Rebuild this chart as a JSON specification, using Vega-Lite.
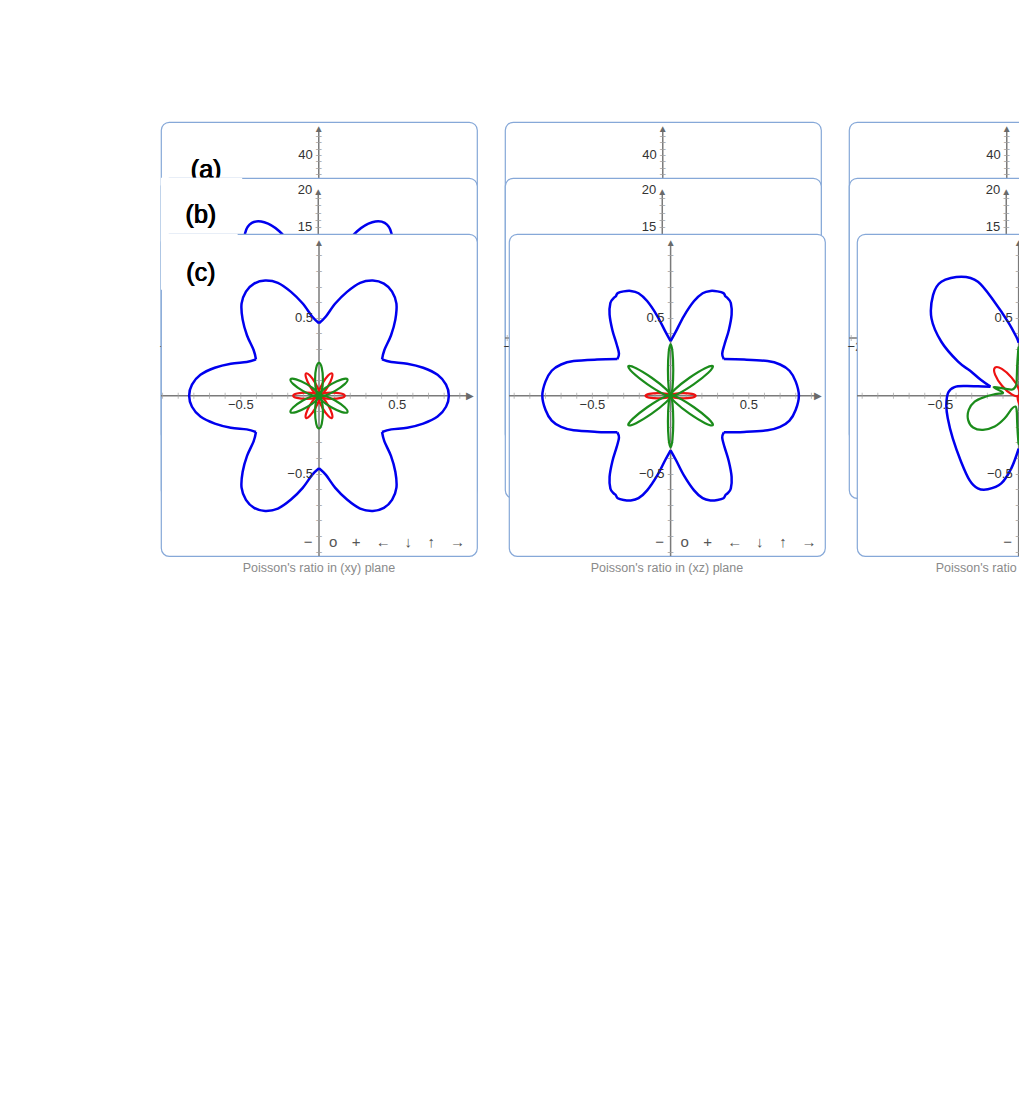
{
"$schema": "https://vega.github.io/schema/vega-lite/v6.json",
"padding": {"left": 12, "top": 10, "right": 0, "bottom": 0},
"background": "white",
"bounds": "flush",
"spacing": 56,
"config": {
 "view": {"stroke": "#86a8d8", "strokeWidth": 1.2, "cornerRadius": 8, "fill": "white"},
 "axis": {"grid": true, "gridColor": "#dedede", "gridWidth": 1, "labels": false, "ticks": false, "domain": false},
 "title": {"orient": "bottom", "fontSize": 12.5, "fontWeight": "normal", "color": "#8a8a8a", "font": "Liberation Sans", "offset": 3},
 "text": {"font": "Liberation Sans", "fontSize": 13, "color": "#333"}
},
"datasets": {
 "hx_a1": [{"x":-49.3,"y":0},{"x":46.9,"y":0}],
 "hx_a2": [{"x":-49.3,"y":0},{"x":46.9,"y":0}],
 "hx_a3": [{"x":-49.3,"y":0},{"x":46.9,"y":0}],
 "vy_a1": [{"x":0,"y":-49.7},{"x":0,"y":48.1}],
 "vy_a2": [{"x":0,"y":-49.7},{"x":0,"y":48.1}],
 "vy_a3": [{"x":0,"y":-49.7},{"x":0,"y":48.1}],
 "hx_b1": [{"x":-21.3,"y":0},{"x":20.3,"y":0}],
 "hx_b2": [{"x":-21.3,"y":0},{"x":20.3,"y":0}],
 "hx_b3": [{"x":-21.3,"y":0},{"x":20.3,"y":0}],
 "vy_b1": [{"x":0,"y":-21.68},{"x":0,"y":19.8}],
 "vy_b2": [{"x":0,"y":-21.68},{"x":0,"y":19.8}],
 "vy_b3": [{"x":0,"y":-21.68},{"x":0,"y":19.8}],
 "hx_c1": [{"x":-1.01,"y":0},{"x":0.965,"y":0}],
 "hx_c2": [{"x":-1.033,"y":0},{"x":0.94,"y":0}],
 "hx_c3": [{"x":-1.033,"y":0},{"x":0.925,"y":0}],
 "vy_c1": [{"x":0,"y":-1.028},{"x":0,"y":0.98}],
 "vy_c2": [{"x":0,"y":-1.028},{"x":0,"y":0.98}],
 "vy_c3": [{"x":0,"y":-1.028},{"x":0,"y":0.98}],
 "ar_a1": [{"x":46.9,"y":0,"s":"▶"},{"x":0,"y":48.1,"s":"▲"}],
 "ar_a2": [{"x":46.9,"y":0,"s":"▶"},{"x":0,"y":48.1,"s":"▲"}],
 "ar_a3": [{"x":46.9,"y":0,"s":"▶"},{"x":0,"y":48.1,"s":"▲"}],
 "ar_b1": [{"x":20.3,"y":0,"s":"▶"},{"x":0,"y":19.8,"s":"▲"}],
 "ar_b2": [{"x":20.3,"y":0,"s":"▶"},{"x":0,"y":19.8,"s":"▲"}],
 "ar_b3": [{"x":20.3,"y":0,"s":"▶"},{"x":0,"y":19.8,"s":"▲"}],
 "ar_c1": [{"x":0.965,"y":0,"s":"▶"},{"x":0,"y":0.98,"s":"▲"}],
 "ar_c2": [{"x":0.94,"y":0,"s":"▶"},{"x":0,"y":0.98,"s":"▲"}],
 "ar_c3": [{"x":0.925,"y":0,"s":"▶"},{"x":0,"y":0.98,"s":"▲"}],
 "wb_a1": [{"x":-46.1,"y":36.7},{"x":-21.9,"y":36.7}],
 "wb_b1": [{"x":-21.3,"y":16.69},{"x":-10.3,"y":16.69}],
 "wb_c1": [{"x":-1.01,"y":0.8585},{"x":-0.52,"y":0.8585}],
 "la_a1": [{"x":-35.35,"y":35.4,"s":"(a)"},{"x":-35.2,"y":35.4,"s":"(a)"},{"x":-35.05,"y":35.4,"s":"(a)"}],
 "la_b1": [{"x":-15.97,"y":16.7,"s":"(b)"},{"x":-15.9,"y":16.7,"s":"(b)"},{"x":-15.83,"y":16.7,"s":"(b)"}],
 "la_c1": [{"x":-0.758,"y":0.786,"s":"(c)"},{"x":-0.755,"y":0.786,"s":"(c)"},{"x":-0.752,"y":0.786,"s":"(c)"}],
 "mx_a1": [{"v":-48},{"v":-46},{"v":-44},{"v":-42},{"v":-40},{"v":-38},{"v":-36},{"v":-34},{"v":-32},{"v":-30},{"v":-28},{"v":-26},{"v":-24},{"v":-22},{"v":-20},{"v":-18},{"v":-16},{"v":-14},{"v":-12},{"v":-10},{"v":-8},{"v":-6},{"v":-4},{"v":-2},{"v":2},{"v":4},{"v":6},{"v":8},{"v":10},{"v":12},{"v":14},{"v":16},{"v":18},{"v":20},{"v":22},{"v":24},{"v":26},{"v":28},{"v":30},{"v":32},{"v":34},{"v":36},{"v":38},{"v":40},{"v":42},{"v":44},{"v":46}],
 "mx_a2": [{"v":-48},{"v":-46},{"v":-44},{"v":-42},{"v":-40},{"v":-38},{"v":-36},{"v":-34},{"v":-32},{"v":-30},{"v":-28},{"v":-26},{"v":-24},{"v":-22},{"v":-20},{"v":-18},{"v":-16},{"v":-14},{"v":-12},{"v":-10},{"v":-8},{"v":-6},{"v":-4},{"v":-2},{"v":2},{"v":4},{"v":6},{"v":8},{"v":10},{"v":12},{"v":14},{"v":16},{"v":18},{"v":20},{"v":22},{"v":24},{"v":26},{"v":28},{"v":30},{"v":32},{"v":34},{"v":36},{"v":38},{"v":40},{"v":42},{"v":44},{"v":46}],
 "mx_a3": [{"v":-48},{"v":-46},{"v":-44},{"v":-42},{"v":-40},{"v":-38},{"v":-36},{"v":-34},{"v":-32},{"v":-30},{"v":-28},{"v":-26},{"v":-24},{"v":-22},{"v":-20},{"v":-18},{"v":-16},{"v":-14},{"v":-12},{"v":-10},{"v":-8},{"v":-6},{"v":-4},{"v":-2},{"v":2},{"v":4},{"v":6},{"v":8},{"v":10},{"v":12},{"v":14},{"v":16},{"v":18},{"v":20},{"v":22},{"v":24},{"v":26},{"v":28},{"v":30},{"v":32},{"v":34},{"v":36},{"v":38},{"v":40},{"v":42},{"v":44},{"v":46}],
 "mx_b1": [{"v":-21},{"v":-20},{"v":-19},{"v":-18},{"v":-17},{"v":-16},{"v":-15},{"v":-14},{"v":-13},{"v":-12},{"v":-11},{"v":-10},{"v":-9},{"v":-8},{"v":-7},{"v":-6},{"v":-5},{"v":-4},{"v":-3},{"v":-2},{"v":-1},{"v":1},{"v":2},{"v":3},{"v":4},{"v":5},{"v":6},{"v":7},{"v":8},{"v":9},{"v":10},{"v":11},{"v":12},{"v":13},{"v":14},{"v":15},{"v":16},{"v":17},{"v":18},{"v":19}],
 "mx_b2": [{"v":-21},{"v":-20},{"v":-19},{"v":-18},{"v":-17},{"v":-16},{"v":-15},{"v":-14},{"v":-13},{"v":-12},{"v":-11},{"v":-10},{"v":-9},{"v":-8},{"v":-7},{"v":-6},{"v":-5},{"v":-4},{"v":-3},{"v":-2},{"v":-1},{"v":1},{"v":2},{"v":3},{"v":4},{"v":5},{"v":6},{"v":7},{"v":8},{"v":9},{"v":10},{"v":11},{"v":12},{"v":13},{"v":14},{"v":15},{"v":16},{"v":17},{"v":18},{"v":19}],
 "mx_b3": [{"v":-21},{"v":-20},{"v":-19},{"v":-18},{"v":-17},{"v":-16},{"v":-15},{"v":-14},{"v":-13},{"v":-12},{"v":-11},{"v":-10},{"v":-9},{"v":-8},{"v":-7},{"v":-6},{"v":-5},{"v":-4},{"v":-3},{"v":-2},{"v":-1},{"v":1},{"v":2},{"v":3},{"v":4},{"v":5},{"v":6},{"v":7},{"v":8},{"v":9},{"v":10},{"v":11},{"v":12},{"v":13},{"v":14},{"v":15},{"v":16},{"v":17},{"v":18},{"v":19}],
 "mx_c1": [{"v":-1},{"v":-0.9},{"v":-0.8},{"v":-0.7},{"v":-0.6},{"v":-0.5},{"v":-0.4},{"v":-0.3},{"v":-0.2},{"v":-0.1},{"v":0.1},{"v":0.2},{"v":0.3},{"v":0.4},{"v":0.5},{"v":0.6},{"v":0.7},{"v":0.8},{"v":0.9}],
 "mx_c2": [{"v":-1},{"v":-0.9},{"v":-0.8},{"v":-0.7},{"v":-0.6},{"v":-0.5},{"v":-0.4},{"v":-0.3},{"v":-0.2},{"v":-0.1},{"v":0.1},{"v":0.2},{"v":0.3},{"v":0.4},{"v":0.5},{"v":0.6},{"v":0.7},{"v":0.8},{"v":0.9}],
 "mx_c3": [{"v":-1},{"v":-0.9},{"v":-0.8},{"v":-0.7},{"v":-0.6},{"v":-0.5},{"v":-0.4},{"v":-0.3},{"v":-0.2},{"v":-0.1},{"v":0.1},{"v":0.2},{"v":0.3},{"v":0.4},{"v":0.5},{"v":0.6},{"v":0.7},{"v":0.8},{"v":0.9}],
 "my_a1": [{"x":0,"y":-48,"s":"–"},{"x":0,"y":-46,"s":"–"},{"x":0,"y":-44,"s":"–"},{"x":0,"y":-42,"s":"–"},{"x":0,"y":-40,"s":"–"},{"x":0,"y":-38,"s":"–"},{"x":0,"y":-36,"s":"–"},{"x":0,"y":-34,"s":"–"},{"x":0,"y":-32,"s":"–"},{"x":0,"y":-30,"s":"–"},{"x":0,"y":-28,"s":"–"},{"x":0,"y":-26,"s":"–"},{"x":0,"y":-24,"s":"–"},{"x":0,"y":-22,"s":"–"},{"x":0,"y":-20,"s":"–"},{"x":0,"y":-18,"s":"–"},{"x":0,"y":-16,"s":"–"},{"x":0,"y":-14,"s":"–"},{"x":0,"y":-12,"s":"–"},{"x":0,"y":-10,"s":"–"},{"x":0,"y":-8,"s":"–"},{"x":0,"y":-6,"s":"–"},{"x":0,"y":-4,"s":"–"},{"x":0,"y":-2,"s":"–"},{"x":0,"y":2,"s":"–"},{"x":0,"y":4,"s":"–"},{"x":0,"y":6,"s":"–"},{"x":0,"y":8,"s":"–"},{"x":0,"y":10,"s":"–"},{"x":0,"y":12,"s":"–"},{"x":0,"y":14,"s":"–"},{"x":0,"y":16,"s":"–"},{"x":0,"y":18,"s":"–"},{"x":0,"y":20,"s":"–"},{"x":0,"y":22,"s":"–"},{"x":0,"y":24,"s":"–"},{"x":0,"y":26,"s":"–"},{"x":0,"y":28,"s":"–"},{"x":0,"y":30,"s":"–"},{"x":0,"y":32,"s":"–"},{"x":0,"y":34,"s":"–"},{"x":0,"y":36,"s":"–"},{"x":0,"y":38,"s":"–"},{"x":0,"y":40,"s":"–"},{"x":0,"y":42,"s":"–"},{"x":0,"y":44,"s":"–"},{"x":0,"y":46,"s":"–"}],
 "my_a2": [{"x":0,"y":-48,"s":"–"},{"x":0,"y":-46,"s":"–"},{"x":0,"y":-44,"s":"–"},{"x":0,"y":-42,"s":"–"},{"x":0,"y":-40,"s":"–"},{"x":0,"y":-38,"s":"–"},{"x":0,"y":-36,"s":"–"},{"x":0,"y":-34,"s":"–"},{"x":0,"y":-32,"s":"–"},{"x":0,"y":-30,"s":"–"},{"x":0,"y":-28,"s":"–"},{"x":0,"y":-26,"s":"–"},{"x":0,"y":-24,"s":"–"},{"x":0,"y":-22,"s":"–"},{"x":0,"y":-20,"s":"–"},{"x":0,"y":-18,"s":"–"},{"x":0,"y":-16,"s":"–"},{"x":0,"y":-14,"s":"–"},{"x":0,"y":-12,"s":"–"},{"x":0,"y":-10,"s":"–"},{"x":0,"y":-8,"s":"–"},{"x":0,"y":-6,"s":"–"},{"x":0,"y":-4,"s":"–"},{"x":0,"y":-2,"s":"–"},{"x":0,"y":2,"s":"–"},{"x":0,"y":4,"s":"–"},{"x":0,"y":6,"s":"–"},{"x":0,"y":8,"s":"–"},{"x":0,"y":10,"s":"–"},{"x":0,"y":12,"s":"–"},{"x":0,"y":14,"s":"–"},{"x":0,"y":16,"s":"–"},{"x":0,"y":18,"s":"–"},{"x":0,"y":20,"s":"–"},{"x":0,"y":22,"s":"–"},{"x":0,"y":24,"s":"–"},{"x":0,"y":26,"s":"–"},{"x":0,"y":28,"s":"–"},{"x":0,"y":30,"s":"–"},{"x":0,"y":32,"s":"–"},{"x":0,"y":34,"s":"–"},{"x":0,"y":36,"s":"–"},{"x":0,"y":38,"s":"–"},{"x":0,"y":40,"s":"–"},{"x":0,"y":42,"s":"–"},{"x":0,"y":44,"s":"–"},{"x":0,"y":46,"s":"–"}],
 "my_a3": [{"x":0,"y":-48,"s":"–"},{"x":0,"y":-46,"s":"–"},{"x":0,"y":-44,"s":"–"},{"x":0,"y":-42,"s":"–"},{"x":0,"y":-40,"s":"–"},{"x":0,"y":-38,"s":"–"},{"x":0,"y":-36,"s":"–"},{"x":0,"y":-34,"s":"–"},{"x":0,"y":-32,"s":"–"},{"x":0,"y":-30,"s":"–"},{"x":0,"y":-28,"s":"–"},{"x":0,"y":-26,"s":"–"},{"x":0,"y":-24,"s":"–"},{"x":0,"y":-22,"s":"–"},{"x":0,"y":-20,"s":"–"},{"x":0,"y":-18,"s":"–"},{"x":0,"y":-16,"s":"–"},{"x":0,"y":-14,"s":"–"},{"x":0,"y":-12,"s":"–"},{"x":0,"y":-10,"s":"–"},{"x":0,"y":-8,"s":"–"},{"x":0,"y":-6,"s":"–"},{"x":0,"y":-4,"s":"–"},{"x":0,"y":-2,"s":"–"},{"x":0,"y":2,"s":"–"},{"x":0,"y":4,"s":"–"},{"x":0,"y":6,"s":"–"},{"x":0,"y":8,"s":"–"},{"x":0,"y":10,"s":"–"},{"x":0,"y":12,"s":"–"},{"x":0,"y":14,"s":"–"},{"x":0,"y":16,"s":"–"},{"x":0,"y":18,"s":"–"},{"x":0,"y":20,"s":"–"},{"x":0,"y":22,"s":"–"},{"x":0,"y":24,"s":"–"},{"x":0,"y":26,"s":"–"},{"x":0,"y":28,"s":"–"},{"x":0,"y":30,"s":"–"},{"x":0,"y":32,"s":"–"},{"x":0,"y":34,"s":"–"},{"x":0,"y":36,"s":"–"},{"x":0,"y":38,"s":"–"},{"x":0,"y":40,"s":"–"},{"x":0,"y":42,"s":"–"},{"x":0,"y":44,"s":"–"},{"x":0,"y":46,"s":"–"}],
 "my_b1": [{"x":0,"y":-21,"s":"–"},{"x":0,"y":-20,"s":"–"},{"x":0,"y":-19,"s":"–"},{"x":0,"y":-18,"s":"–"},{"x":0,"y":-17,"s":"–"},{"x":0,"y":-16,"s":"–"},{"x":0,"y":-15,"s":"–"},{"x":0,"y":-14,"s":"–"},{"x":0,"y":-13,"s":"–"},{"x":0,"y":-12,"s":"–"},{"x":0,"y":-11,"s":"–"},{"x":0,"y":-10,"s":"–"},{"x":0,"y":-9,"s":"–"},{"x":0,"y":-8,"s":"–"},{"x":0,"y":-7,"s":"–"},{"x":0,"y":-6,"s":"–"},{"x":0,"y":-5,"s":"–"},{"x":0,"y":-4,"s":"–"},{"x":0,"y":-3,"s":"–"},{"x":0,"y":-2,"s":"–"},{"x":0,"y":-1,"s":"–"},{"x":0,"y":1,"s":"–"},{"x":0,"y":2,"s":"–"},{"x":0,"y":3,"s":"–"},{"x":0,"y":4,"s":"–"},{"x":0,"y":5,"s":"–"},{"x":0,"y":6,"s":"–"},{"x":0,"y":7,"s":"–"},{"x":0,"y":8,"s":"–"},{"x":0,"y":9,"s":"–"},{"x":0,"y":10,"s":"–"},{"x":0,"y":11,"s":"–"},{"x":0,"y":12,"s":"–"},{"x":0,"y":13,"s":"–"},{"x":0,"y":14,"s":"–"},{"x":0,"y":15,"s":"–"},{"x":0,"y":16,"s":"–"},{"x":0,"y":17,"s":"–"},{"x":0,"y":18,"s":"–"},{"x":0,"y":19,"s":"–"}],
 "my_b2": [{"x":0,"y":-21,"s":"–"},{"x":0,"y":-20,"s":"–"},{"x":0,"y":-19,"s":"–"},{"x":0,"y":-18,"s":"–"},{"x":0,"y":-17,"s":"–"},{"x":0,"y":-16,"s":"–"},{"x":0,"y":-15,"s":"–"},{"x":0,"y":-14,"s":"–"},{"x":0,"y":-13,"s":"–"},{"x":0,"y":-12,"s":"–"},{"x":0,"y":-11,"s":"–"},{"x":0,"y":-10,"s":"–"},{"x":0,"y":-9,"s":"–"},{"x":0,"y":-8,"s":"–"},{"x":0,"y":-7,"s":"–"},{"x":0,"y":-6,"s":"–"},{"x":0,"y":-5,"s":"–"},{"x":0,"y":-4,"s":"–"},{"x":0,"y":-3,"s":"–"},{"x":0,"y":-2,"s":"–"},{"x":0,"y":-1,"s":"–"},{"x":0,"y":1,"s":"–"},{"x":0,"y":2,"s":"–"},{"x":0,"y":3,"s":"–"},{"x":0,"y":4,"s":"–"},{"x":0,"y":5,"s":"–"},{"x":0,"y":6,"s":"–"},{"x":0,"y":7,"s":"–"},{"x":0,"y":8,"s":"–"},{"x":0,"y":9,"s":"–"},{"x":0,"y":10,"s":"–"},{"x":0,"y":11,"s":"–"},{"x":0,"y":12,"s":"–"},{"x":0,"y":13,"s":"–"},{"x":0,"y":14,"s":"–"},{"x":0,"y":15,"s":"–"},{"x":0,"y":16,"s":"–"},{"x":0,"y":17,"s":"–"},{"x":0,"y":18,"s":"–"},{"x":0,"y":19,"s":"–"}],
 "my_b3": [{"x":0,"y":-21,"s":"–"},{"x":0,"y":-20,"s":"–"},{"x":0,"y":-19,"s":"–"},{"x":0,"y":-18,"s":"–"},{"x":0,"y":-17,"s":"–"},{"x":0,"y":-16,"s":"–"},{"x":0,"y":-15,"s":"–"},{"x":0,"y":-14,"s":"–"},{"x":0,"y":-13,"s":"–"},{"x":0,"y":-12,"s":"–"},{"x":0,"y":-11,"s":"–"},{"x":0,"y":-10,"s":"–"},{"x":0,"y":-9,"s":"–"},{"x":0,"y":-8,"s":"–"},{"x":0,"y":-7,"s":"–"},{"x":0,"y":-6,"s":"–"},{"x":0,"y":-5,"s":"–"},{"x":0,"y":-4,"s":"–"},{"x":0,"y":-3,"s":"–"},{"x":0,"y":-2,"s":"–"},{"x":0,"y":-1,"s":"–"},{"x":0,"y":1,"s":"–"},{"x":0,"y":2,"s":"–"},{"x":0,"y":3,"s":"–"},{"x":0,"y":4,"s":"–"},{"x":0,"y":5,"s":"–"},{"x":0,"y":6,"s":"–"},{"x":0,"y":7,"s":"–"},{"x":0,"y":8,"s":"–"},{"x":0,"y":9,"s":"–"},{"x":0,"y":10,"s":"–"},{"x":0,"y":11,"s":"–"},{"x":0,"y":12,"s":"–"},{"x":0,"y":13,"s":"–"},{"x":0,"y":14,"s":"–"},{"x":0,"y":15,"s":"–"},{"x":0,"y":16,"s":"–"},{"x":0,"y":17,"s":"–"},{"x":0,"y":18,"s":"–"},{"x":0,"y":19,"s":"–"}],
 "my_c1": [{"x":0,"y":-1,"s":"–"},{"x":0,"y":-0.9,"s":"–"},{"x":0,"y":-0.8,"s":"–"},{"x":0,"y":-0.7,"s":"–"},{"x":0,"y":-0.6,"s":"–"},{"x":0,"y":-0.5,"s":"–"},{"x":0,"y":-0.4,"s":"–"},{"x":0,"y":-0.3,"s":"–"},{"x":0,"y":-0.2,"s":"–"},{"x":0,"y":-0.1,"s":"–"},{"x":0,"y":0.1,"s":"–"},{"x":0,"y":0.2,"s":"–"},{"x":0,"y":0.3,"s":"–"},{"x":0,"y":0.4,"s":"–"},{"x":0,"y":0.5,"s":"–"},{"x":0,"y":0.6,"s":"–"},{"x":0,"y":0.7,"s":"–"},{"x":0,"y":0.8,"s":"–"},{"x":0,"y":0.9,"s":"–"}],
 "my_c2": [{"x":0,"y":-1,"s":"–"},{"x":0,"y":-0.9,"s":"–"},{"x":0,"y":-0.8,"s":"–"},{"x":0,"y":-0.7,"s":"–"},{"x":0,"y":-0.6,"s":"–"},{"x":0,"y":-0.5,"s":"–"},{"x":0,"y":-0.4,"s":"–"},{"x":0,"y":-0.3,"s":"–"},{"x":0,"y":-0.2,"s":"–"},{"x":0,"y":-0.1,"s":"–"},{"x":0,"y":0.1,"s":"–"},{"x":0,"y":0.2,"s":"–"},{"x":0,"y":0.3,"s":"–"},{"x":0,"y":0.4,"s":"–"},{"x":0,"y":0.5,"s":"–"},{"x":0,"y":0.6,"s":"–"},{"x":0,"y":0.7,"s":"–"},{"x":0,"y":0.8,"s":"–"},{"x":0,"y":0.9,"s":"–"}],
 "my_c3": [{"x":0,"y":-1,"s":"–"},{"x":0,"y":-0.9,"s":"–"},{"x":0,"y":-0.8,"s":"–"},{"x":0,"y":-0.7,"s":"–"},{"x":0,"y":-0.6,"s":"–"},{"x":0,"y":-0.5,"s":"–"},{"x":0,"y":-0.4,"s":"–"},{"x":0,"y":-0.3,"s":"–"},{"x":0,"y":-0.2,"s":"–"},{"x":0,"y":-0.1,"s":"–"},{"x":0,"y":0.1,"s":"–"},{"x":0,"y":0.2,"s":"–"},{"x":0,"y":0.3,"s":"–"},{"x":0,"y":0.4,"s":"–"},{"x":0,"y":0.5,"s":"–"},{"x":0,"y":0.6,"s":"–"},{"x":0,"y":0.7,"s":"–"},{"x":0,"y":0.8,"s":"–"},{"x":0,"y":0.9,"s":"–"}],
 "lx_a1": [{"v":-40,"s":"−40"},{"v":-30,"s":"−30"},{"v":-20,"s":"−20"},{"v":-10,"s":"−10"},{"v":10,"s":"10"},{"v":20,"s":"20"},{"v":30,"s":"30"},{"v":40,"s":"40"}],
 "lx_a2": [{"v":-40,"s":"−40"},{"v":-30,"s":"−30"},{"v":-20,"s":"−20"},{"v":-10,"s":"−10"},{"v":10,"s":"10"},{"v":20,"s":"20"},{"v":30,"s":"30"},{"v":40,"s":"40"}],
 "lx_a3": [{"v":-40,"s":"−40"},{"v":-30,"s":"−30"},{"v":-20,"s":"−20"},{"v":-10,"s":"−10"},{"v":10,"s":"10"},{"v":20,"s":"20"},{"v":30,"s":"30"},{"v":40,"s":"40"}],
 "lx_b1": [{"v":-20,"s":"−20"},{"v":-15,"s":"−15"},{"v":-10,"s":"−10"},{"v":-5,"s":"−5"},{"v":5,"s":"5"},{"v":10,"s":"10"},{"v":15,"s":"15"},{"v":20,"s":"20"}],
 "lx_b2": [{"v":-20,"s":"−20"},{"v":-15,"s":"−15"},{"v":-10,"s":"−10"},{"v":-5,"s":"−5"},{"v":5,"s":"5"},{"v":10,"s":"10"},{"v":15,"s":"15"},{"v":20,"s":"20"}],
 "lx_b3": [{"v":-20,"s":"−20"},{"v":-15,"s":"−15"},{"v":-10,"s":"−10"},{"v":-5,"s":"−5"},{"v":5,"s":"5"},{"v":10,"s":"10"},{"v":15,"s":"15"},{"v":20,"s":"20"}],
 "lx_c1": [{"v":-0.5,"s":"−0.5"},{"v":0.5,"s":"0.5"}],
 "lx_c2": [{"v":-0.5,"s":"−0.5"},{"v":0.5,"s":"0.5"}],
 "lx_c3": [{"v":-0.5,"s":"−0.5"},{"v":0.5,"s":"0.5"}],
 "ly_a1": [{"x":-5.33,"y":-40,"s":"−40"},{"x":-5.33,"y":-30,"s":"−30"},{"x":-5.33,"y":-20,"s":"−20"},{"x":-5.33,"y":-10,"s":"−10"},{"x":-4.14,"y":10,"s":"10"},{"x":-4.14,"y":20,"s":"20"},{"x":-4.14,"y":30,"s":"30"},{"x":-4.14,"y":40,"s":"40"}],
 "ly_a2": [{"x":-5.33,"y":-40,"s":"−40"},{"x":-5.33,"y":-30,"s":"−30"},{"x":-5.33,"y":-20,"s":"−20"},{"x":-5.33,"y":-10,"s":"−10"},{"x":-4.14,"y":10,"s":"10"},{"x":-4.14,"y":20,"s":"20"},{"x":-4.14,"y":30,"s":"30"},{"x":-4.14,"y":40,"s":"40"}],
 "ly_a3": [{"x":-5.33,"y":-40,"s":"−40"},{"x":-5.33,"y":-30,"s":"−30"},{"x":-5.33,"y":-20,"s":"−20"},{"x":-5.33,"y":-10,"s":"−10"},{"x":-4.14,"y":10,"s":"10"},{"x":-4.14,"y":20,"s":"20"},{"x":-4.14,"y":30,"s":"30"},{"x":-4.14,"y":40,"s":"40"}],
 "ly_b1": [{"x":-2.31,"y":-20,"s":"−20"},{"x":-2.31,"y":-15,"s":"−15"},{"x":-2.31,"y":-10,"s":"−10"},{"x":-1.82,"y":-5,"s":"−5"},{"x":-1.3,"y":5,"s":"5"},{"x":-1.8,"y":10,"s":"10"},{"x":-1.8,"y":15,"s":"15"},{"x":-1.8,"y":20,"s":"20"}],
 "ly_b2": [{"x":-2.31,"y":-20,"s":"−20"},{"x":-2.31,"y":-15,"s":"−15"},{"x":-2.31,"y":-10,"s":"−10"},{"x":-1.82,"y":-5,"s":"−5"},{"x":-1.3,"y":5,"s":"5"},{"x":-1.8,"y":10,"s":"10"},{"x":-1.8,"y":15,"s":"15"},{"x":-1.8,"y":20,"s":"20"}],
 "ly_b3": [{"x":-2.31,"y":-20,"s":"−20"},{"x":-2.31,"y":-15,"s":"−15"},{"x":-2.31,"y":-10,"s":"−10"},{"x":-1.82,"y":-5,"s":"−5"},{"x":-1.3,"y":5,"s":"5"},{"x":-1.8,"y":10,"s":"10"},{"x":-1.8,"y":15,"s":"15"},{"x":-1.8,"y":20,"s":"20"}],
 "ly_c1": [{"x":-0.1205,"y":-0.5,"s":"−0.5"},{"x":-0.0962,"y":0.5,"s":"0.5"}],
 "ly_c2": [{"x":-0.1205,"y":-0.5,"s":"−0.5"},{"x":-0.0962,"y":0.5,"s":"0.5"}],
 "ly_c3": [{"x":-0.1205,"y":-0.5,"s":"−0.5"},{"x":-0.0962,"y":0.5,"s":"0.5"}],
 "tb_a1": [{"x":-2.8,"y":-45,"s":"−"},{"x":4.1,"y":-45,"s":"o"},{"x":10.9,"y":-45,"s":"+"},{"x":19.7,"y":-45,"s":"←"},{"x":27.5,"y":-45,"s":"↓"},{"x":34.1,"y":-45,"s":"↑"},{"x":42.5,"y":-45,"s":"→"}],
 "tb_a2": [{"x":-2.8,"y":-45,"s":"−"},{"x":4.1,"y":-45,"s":"o"},{"x":10.9,"y":-45,"s":"+"},{"x":19.7,"y":-45,"s":"←"},{"x":27.5,"y":-45,"s":"↓"},{"x":34.1,"y":-45,"s":"↑"},{"x":42.5,"y":-45,"s":"→"}],
 "tb_a3": [{"x":-2.8,"y":-45,"s":"−"},{"x":4.1,"y":-45,"s":"o"},{"x":10.9,"y":-45,"s":"+"},{"x":19.7,"y":-45,"s":"←"},{"x":27.5,"y":-45,"s":"↓"},{"x":34.1,"y":-45,"s":"↑"},{"x":42.5,"y":-45,"s":"→"}],
 "tb_b1": [{"x":1.63,"y":-19.65,"s":"o"},{"x":4.9,"y":-19.65,"s":"+"},{"x":8.5,"y":-19.65,"s":"←"},{"x":11.9,"y":-19.65,"s":"↓"},{"x":14.9,"y":-19.65,"s":"↑"},{"x":18.6,"y":-19.65,"s":"→"}],
 "tb_b2": [{"x":1.63,"y":-19.65,"s":"o"},{"x":4.9,"y":-19.65,"s":"+"},{"x":8.5,"y":-19.65,"s":"←"},{"x":11.9,"y":-19.65,"s":"↓"},{"x":14.9,"y":-19.65,"s":"↑"},{"x":18.6,"y":-19.65,"s":"→"}],
 "tb_b3": [{"x":1.63,"y":-19.65,"s":"o"},{"x":4.9,"y":-19.65,"s":"+"},{"x":8.5,"y":-19.65,"s":"←"},{"x":11.9,"y":-19.65,"s":"↓"},{"x":14.9,"y":-19.65,"s":"↑"},{"x":18.6,"y":-19.65,"s":"→"}],
 "tb_c1": [{"x":-0.07,"y":-0.94,"s":"−"},{"x":0.09,"y":-0.94,"s":"o"},{"x":0.237,"y":-0.94,"s":"+"},{"x":0.41,"y":-0.94,"s":"←"},{"x":0.57,"y":-0.94,"s":"↓"},{"x":0.718,"y":-0.94,"s":"↑"},{"x":0.885,"y":-0.94,"s":"→"}],
 "tb_c2": [{"x":-0.07,"y":-0.94,"s":"−"},{"x":0.09,"y":-0.94,"s":"o"},{"x":0.237,"y":-0.94,"s":"+"},{"x":0.41,"y":-0.94,"s":"←"},{"x":0.57,"y":-0.94,"s":"↓"},{"x":0.718,"y":-0.94,"s":"↑"},{"x":0.885,"y":-0.94,"s":"→"}],
 "tb_c3": [{"x":-0.07,"y":-0.94,"s":"−"},{"x":0.09,"y":-0.94,"s":"o"},{"x":0.237,"y":-0.94,"s":"+"},{"x":0.41,"y":-0.94,"s":"←"},{"x":0.57,"y":-0.94,"s":"↓"},{"x":0.718,"y":-0.94,"s":"↑"},{"x":0.885,"y":-0.94,"s":"→"}],
 "a1c": [{"c":"g","x":20,"y":0},{"c":"g","x":19.32,"y":5.18},{"c":"g","x":17.32,"y":10},{"c":"g","x":14.14,"y":14.14},{"c":"g","x":10,"y":17.32},{"c":"g","x":5.18,"y":19.32},{"c":"g","x":0,"y":20},{"c":"g","x":-5.18,"y":19.32},{"c":"g","x":-10,"y":17.32},{"c":"g","x":-14.14,"y":14.14},{"c":"g","x":-17.32,"y":10},{"c":"g","x":-19.32,"y":5.18},{"c":"g","x":-20,"y":0},{"c":"g","x":-19.32,"y":-5.18},{"c":"g","x":-17.32,"y":-10},{"c":"g","x":-14.14,"y":-14.14},{"c":"g","x":-10,"y":-17.32},{"c":"g","x":-5.18,"y":-19.32},{"c":"g","x":0,"y":-20},{"c":"g","x":5.18,"y":-19.32},{"c":"g","x":10,"y":-17.32},{"c":"g","x":14.14,"y":-14.14},{"c":"g","x":17.32,"y":-10},{"c":"g","x":19.32,"y":-5.18}],
 "a2c": [{"c":"g","x":20,"y":0},{"c":"g","x":19.5,"y":4},{"c":"g","x":17.7,"y":7.1},{"c":"g","x":15.1,"y":10},{"c":"g","x":13.5,"y":13.3},{"c":"g","x":12.3,"y":16},{"c":"g","x":10.9,"y":20},{"c":"g","x":9.6,"y":24.8},{"c":"g","x":6.2,"y":30},{"c":"g","x":3.5,"y":31.7},{"c":"g","x":0,"y":32.1},{"c":"g","x":-3.5,"y":31.7},{"c":"g","x":-6.2,"y":30},{"c":"g","x":-9.6,"y":24.8},{"c":"g","x":-10.9,"y":20},{"c":"g","x":-12.3,"y":16},{"c":"g","x":-13.5,"y":13.3},{"c":"g","x":-15.1,"y":10},{"c":"g","x":-17.7,"y":7.1},{"c":"g","x":-19.5,"y":4},{"c":"g","x":-20,"y":0},{"c":"g","x":-19.5,"y":-4},{"c":"g","x":-17.7,"y":-7.1},{"c":"g","x":-15.1,"y":-10},{"c":"g","x":-13.5,"y":-13.3},{"c":"g","x":-12.3,"y":-16},{"c":"g","x":-10.9,"y":-20},{"c":"g","x":-9.6,"y":-24.8},{"c":"g","x":-6.2,"y":-30},{"c":"g","x":-3.5,"y":-31.7},{"c":"g","x":0,"y":-32.1},{"c":"g","x":3.5,"y":-31.7},{"c":"g","x":6.2,"y":-30},{"c":"g","x":9.6,"y":-24.8},{"c":"g","x":10.9,"y":-20},{"c":"g","x":12.3,"y":-16},{"c":"g","x":13.5,"y":-13.3},{"c":"g","x":15.1,"y":-10},{"c":"g","x":17.7,"y":-7.1},{"c":"g","x":19.5,"y":-4}],
 "a3c": [{"c":"g","x":0.5,"y":32},{"c":"g","x":3.9,"y":31.6},{"c":"g","x":6.5,"y":29},{"c":"g","x":7.8,"y":24.8},{"c":"g","x":8.6,"y":19.6},{"c":"g","x":9,"y":13.3},{"c":"g","x":9.1,"y":8.6},{"c":"g","x":9.8,"y":6.6},{"c":"g","x":12.2,"y":4.5},{"c":"g","x":16.4,"y":2.7},{"c":"g","x":20.5,"y":0.8},{"c":"g","x":24.7,"y":-1.8},{"c":"g","x":28.9,"y":-4.9},{"c":"g","x":33,"y":-8.5},{"c":"g","x":35.9,"y":-12.7},{"c":"g","x":37.2,"y":-16.7},{"c":"g","x":36.7,"y":-19.5},{"c":"g","x":34.6,"y":-22.1},{"c":"g","x":30.9,"y":-22.9},{"c":"g","x":25.7,"y":-23.3},{"c":"g","x":20.5,"y":-23.75},{"c":"g","x":16.4,"y":-24.7},{"c":"g","x":12.2,"y":-26.8},{"c":"g","x":8,"y":-29.4},{"c":"g","x":3.9,"y":-31.25},
  {"c":"g","x":-0.5,"y":-32},{"c":"g","x":-3.9,"y":-31.6},{"c":"g","x":-6.5,"y":-29},{"c":"g","x":-7.8,"y":-24.8},{"c":"g","x":-8.6,"y":-19.6},{"c":"g","x":-9,"y":-13.3},{"c":"g","x":-9.1,"y":-8.6},{"c":"g","x":-9.8,"y":-6.6},{"c":"g","x":-12.2,"y":-4.5},{"c":"g","x":-16.4,"y":-2.7},{"c":"g","x":-20.5,"y":-0.8},{"c":"g","x":-24.7,"y":1.8},{"c":"g","x":-28.9,"y":4.9},{"c":"g","x":-33,"y":8.5},{"c":"g","x":-35.9,"y":12.7},{"c":"g","x":-37.2,"y":16.7},{"c":"g","x":-36.7,"y":19.5},{"c":"g","x":-34.6,"y":22.1},{"c":"g","x":-30.9,"y":22.9},{"c":"g","x":-25.7,"y":23.3},{"c":"g","x":-20.5,"y":23.75},{"c":"g","x":-16.4,"y":24.7},{"c":"g","x":-12.2,"y":26.8},{"c":"g","x":-8,"y":29.4},{"c":"g","x":-3.9,"y":31.25}],
 "b1o": [
  {"c":"b","g":0,"x":5.98,"y":-3.45},{"c":"b","g":0,"x":7.43,"y":-3.47},{"c":"b","g":0,"x":9.4,"y":-3.42},{"c":"b","g":0,"x":12.07,"y":-3.24},{"c":"b","g":0,"x":15.17,"y":-2.67},{"c":"b","g":0,"x":17.23,"y":-1.51},{"c":"b","g":0,"x":18,"y":0},{"c":"b","g":0,"x":17.23,"y":1.51},{"c":"b","g":0,"x":15.17,"y":2.67},{"c":"b","g":0,"x":12.07,"y":3.24},{"c":"b","g":0,"x":9.4,"y":3.42},{"c":"b","g":0,"x":7.43,"y":3.47},{"c":"b","g":0,"x":5.98,"y":3.45},
  {"c":"b","g":1,"x":5.98,"y":3.45},{"c":"b","g":1,"x":6.72,"y":4.7},{"c":"b","g":1,"x":7.66,"y":6.43},{"c":"b","g":1,"x":8.84,"y":8.84},{"c":"b","g":1,"x":9.9,"y":11.8},{"c":"b","g":1,"x":9.92,"y":14.17},{"c":"b","g":1,"x":9,"y":15.59},{"c":"b","g":1,"x":7.31,"y":15.68},{"c":"b","g":1,"x":5.27,"y":14.47},{"c":"b","g":1,"x":3.24,"y":12.07},{"c":"b","g":1,"x":1.74,"y":9.85},{"c":"b","g":1,"x":0.72,"y":8.17},{"c":"b","g":1,"x":0,"y":6.9},
  {"c":"b","g":2,"x":-5.98,"y":3.45},{"c":"b","g":2,"x":-6.72,"y":4.7},{"c":"b","g":2,"x":-7.66,"y":6.43},{"c":"b","g":2,"x":-8.84,"y":8.84},{"c":"b","g":2,"x":-9.9,"y":11.8},{"c":"b","g":2,"x":-9.92,"y":14.17},{"c":"b","g":2,"x":-9,"y":15.59},{"c":"b","g":2,"x":-7.31,"y":15.68},{"c":"b","g":2,"x":-5.27,"y":14.47},{"c":"b","g":2,"x":-3.24,"y":12.07},{"c":"b","g":2,"x":-1.74,"y":9.85},{"c":"b","g":2,"x":-0.72,"y":8.17},{"c":"b","g":2,"x":0,"y":6.9},
  {"c":"b","g":3,"x":-5.98,"y":-3.45},{"c":"b","g":3,"x":-7.43,"y":-3.47},{"c":"b","g":3,"x":-9.4,"y":-3.42},{"c":"b","g":3,"x":-12.07,"y":-3.24},{"c":"b","g":3,"x":-15.17,"y":-2.67},{"c":"b","g":3,"x":-17.23,"y":-1.51},{"c":"b","g":3,"x":-18,"y":0},{"c":"b","g":3,"x":-17.23,"y":1.51},{"c":"b","g":3,"x":-15.17,"y":2.67},{"c":"b","g":3,"x":-12.07,"y":3.24},{"c":"b","g":3,"x":-9.4,"y":3.42},{"c":"b","g":3,"x":-7.43,"y":3.47},{"c":"b","g":3,"x":-5.98,"y":3.45},
  {"c":"b","g":4,"x":-5.98,"y":-3.45},{"c":"b","g":4,"x":-6.72,"y":-4.7},{"c":"b","g":4,"x":-7.66,"y":-6.43},{"c":"b","g":4,"x":-8.84,"y":-8.84},{"c":"b","g":4,"x":-9.9,"y":-11.8},{"c":"b","g":4,"x":-9.92,"y":-14.17},{"c":"b","g":4,"x":-9,"y":-15.59},{"c":"b","g":4,"x":-7.31,"y":-15.68},{"c":"b","g":4,"x":-5.27,"y":-14.47},{"c":"b","g":4,"x":-3.24,"y":-12.07},{"c":"b","g":4,"x":-1.74,"y":-9.85},{"c":"b","g":4,"x":-0.72,"y":-8.17},{"c":"b","g":4,"x":0,"y":-6.9},
  {"c":"b","g":5,"x":5.98,"y":-3.45},{"c":"b","g":5,"x":6.72,"y":-4.7},{"c":"b","g":5,"x":7.66,"y":-6.43},{"c":"b","g":5,"x":8.84,"y":-8.84},{"c":"b","g":5,"x":9.9,"y":-11.8},{"c":"b","g":5,"x":9.92,"y":-14.17},{"c":"b","g":5,"x":9,"y":-15.59},{"c":"b","g":5,"x":7.31,"y":-15.68},{"c":"b","g":5,"x":5.27,"y":-14.47},{"c":"b","g":5,"x":3.24,"y":-12.07},{"c":"b","g":5,"x":1.74,"y":-9.85},{"c":"b","g":5,"x":0.72,"y":-8.17},{"c":"b","g":5,"x":0,"y":-6.9},
  {"c":"g","g":0,"x":5.63,"y":-3.25},{"c":"g","g":0,"x":4.815,"y":-1.625},{"c":"g","g":0,"x":4.3,"y":-0.6},{"c":"g","g":0,"x":4.05,"y":0},{"c":"g","g":0,"x":4.3,"y":0.6},{"c":"g","g":0,"x":4.815,"y":1.625},{"c":"g","g":0,"x":5.63,"y":3.25},
  {"c":"g","g":1,"x":5.63,"y":3.25},{"c":"g","g":1,"x":3.815,"y":3.357},{"c":"g","g":1,"x":2.67,"y":3.424},{"c":"g","g":1,"x":2.025,"y":3.507},{"c":"g","g":1,"x":1.63,"y":4.024},{"c":"g","g":1,"x":1,"y":4.982},{"c":"g","g":1,"x":0,"y":6.5},
  {"c":"g","g":2,"x":-5.63,"y":3.25},{"c":"g","g":2,"x":-3.815,"y":3.357},{"c":"g","g":2,"x":-2.67,"y":3.424},{"c":"g","g":2,"x":-2.025,"y":3.507},{"c":"g","g":2,"x":-1.63,"y":4.024},{"c":"g","g":2,"x":-1,"y":4.982},{"c":"g","g":2,"x":0,"y":6.5},
  {"c":"g","g":3,"x":-5.63,"y":-3.25},{"c":"g","g":3,"x":-4.815,"y":-1.625},{"c":"g","g":3,"x":-4.3,"y":-0.6},{"c":"g","g":3,"x":-4.05,"y":0},{"c":"g","g":3,"x":-4.3,"y":0.6},{"c":"g","g":3,"x":-4.815,"y":1.625},{"c":"g","g":3,"x":-5.63,"y":3.25},
  {"c":"g","g":4,"x":-5.63,"y":-3.25},{"c":"g","g":4,"x":-3.815,"y":-3.357},{"c":"g","g":4,"x":-2.67,"y":-3.424},{"c":"g","g":4,"x":-2.025,"y":-3.507},{"c":"g","g":4,"x":-1.63,"y":-4.024},{"c":"g","g":4,"x":-1,"y":-4.982},{"c":"g","g":4,"x":0,"y":-6.5},
  {"c":"g","g":5,"x":5.63,"y":-3.25},{"c":"g","g":5,"x":3.815,"y":-3.357},{"c":"g","g":5,"x":2.67,"y":-3.424},{"c":"g","g":5,"x":2.025,"y":-3.507},{"c":"g","g":5,"x":1.63,"y":-4.024},{"c":"g","g":5,"x":1,"y":-4.982},{"c":"g","g":5,"x":0,"y":-6.5}],
 "b2o": [
  {"c":"b","g":0,"x":0,"y":6.4},{"c":"b","g":0,"x":1.6,"y":8.1},{"c":"b","g":0,"x":3.4,"y":9.9},{"c":"b","g":0,"x":5.2,"y":11.5},{"c":"b","g":0,"x":6.75,"y":12.2},{"c":"b","g":0,"x":7.9,"y":11.8},{"c":"b","g":0,"x":8.25,"y":10.8},{"c":"b","g":0,"x":8.1,"y":9},{"c":"b","g":0,"x":7.7,"y":6.75},{"c":"b","g":0,"x":7.6,"y":6},{"c":"b","g":0,"x":7.75,"y":5.1},{"c":"b","g":0,"x":8.8,"y":4.7},{"c":"b","g":0,"x":11.5,"y":4.4},{"c":"b","g":0,"x":14.2,"y":3.8},{"c":"b","g":0,"x":15.6,"y":3.2},{"c":"b","g":0,"x":16.9,"y":2.25},{"c":"b","g":0,"x":17.5,"y":1.2},{"c":"b","g":0,"x":17.9,"y":0},{"c":"b","g":0,"x":17.5,"y":-1.2},{"c":"b","g":0,"x":16.9,"y":-2.25},{"c":"b","g":0,"x":15.6,"y":-3.2},{"c":"b","g":0,"x":14.2,"y":-3.8},{"c":"b","g":0,"x":11.5,"y":-4.4},{"c":"b","g":0,"x":8.8,"y":-4.7},{"c":"b","g":0,"x":7.75,"y":-5.1},{"c":"b","g":0,"x":7.6,"y":-6},{"c":"b","g":0,"x":7.7,"y":-6.75},{"c":"b","g":0,"x":8.1,"y":-9},{"c":"b","g":0,"x":8.25,"y":-10.8},{"c":"b","g":0,"x":7.9,"y":-11.8},{"c":"b","g":0,"x":6.75,"y":-12.2},{"c":"b","g":0,"x":5.2,"y":-11.5},{"c":"b","g":0,"x":3.4,"y":-9.9},{"c":"b","g":0,"x":1.6,"y":-8.1},{"c":"b","g":0,"x":0,"y":-6.4},
  {"c":"b","g":1,"x":0,"y":6.4},{"c":"b","g":1,"x":-1.6,"y":8.1},{"c":"b","g":1,"x":-3.4,"y":9.9},{"c":"b","g":1,"x":-5.2,"y":11.5},{"c":"b","g":1,"x":-6.75,"y":12.2},{"c":"b","g":1,"x":-7.9,"y":11.8},{"c":"b","g":1,"x":-8.25,"y":10.8},{"c":"b","g":1,"x":-8.1,"y":9},{"c":"b","g":1,"x":-7.7,"y":6.75},{"c":"b","g":1,"x":-7.6,"y":6},{"c":"b","g":1,"x":-7.75,"y":5.1},{"c":"b","g":1,"x":-8.8,"y":4.7},{"c":"b","g":1,"x":-11.5,"y":4.4},{"c":"b","g":1,"x":-14.2,"y":3.8},{"c":"b","g":1,"x":-15.6,"y":3.2},{"c":"b","g":1,"x":-16.9,"y":2.25},{"c":"b","g":1,"x":-17.5,"y":1.2},{"c":"b","g":1,"x":-17.9,"y":0},{"c":"b","g":1,"x":-17.5,"y":-1.2},{"c":"b","g":1,"x":-16.9,"y":-2.25},{"c":"b","g":1,"x":-15.6,"y":-3.2},{"c":"b","g":1,"x":-14.2,"y":-3.8},{"c":"b","g":1,"x":-11.5,"y":-4.4},{"c":"b","g":1,"x":-8.8,"y":-4.7},{"c":"b","g":1,"x":-7.75,"y":-5.1},{"c":"b","g":1,"x":-7.6,"y":-6},{"c":"b","g":1,"x":-7.7,"y":-6.75},{"c":"b","g":1,"x":-8.1,"y":-9},{"c":"b","g":1,"x":-8.25,"y":-10.8},{"c":"b","g":1,"x":-7.9,"y":-11.8},{"c":"b","g":1,"x":-6.75,"y":-12.2},{"c":"b","g":1,"x":-5.2,"y":-11.5},{"c":"b","g":1,"x":-3.4,"y":-9.9},{"c":"b","g":1,"x":-1.6,"y":-8.1},{"c":"b","g":1,"x":0,"y":-6.4}],
 "b2c": [{"c":"g","x":3.9,"y":0},{"c":"g","x":4.05,"y":0.9},{"c":"g","x":4.5,"y":2},{"c":"g","x":5.2,"y":3.15},{"c":"g","x":5.4,"y":4},{"c":"g","x":4.6,"y":4.15},{"c":"g","x":3.4,"y":4.2},{"c":"g","x":1.6,"y":4.6},{"c":"g","x":0.68,"y":5.3},{"c":"g","x":0.2,"y":6.1},{"c":"g","x":0,"y":6.4},{"c":"g","x":-0.2,"y":6.1},{"c":"g","x":-0.68,"y":5.3},{"c":"g","x":-1.6,"y":4.6},{"c":"g","x":-3.4,"y":4.2},{"c":"g","x":-4.6,"y":4.15},{"c":"g","x":-5.4,"y":4},{"c":"g","x":-5.2,"y":3.15},{"c":"g","x":-4.5,"y":2},{"c":"g","x":-4.05,"y":0.9},{"c":"g","x":-3.9,"y":0},{"c":"g","x":-4.05,"y":-0.9},{"c":"g","x":-4.5,"y":-2},{"c":"g","x":-5.2,"y":-3.15},{"c":"g","x":-5.4,"y":-4},{"c":"g","x":-4.6,"y":-4.15},{"c":"g","x":-3.4,"y":-4.2},{"c":"g","x":-1.6,"y":-4.6},{"c":"g","x":-0.68,"y":-5.3},{"c":"g","x":-0.2,"y":-6.1},{"c":"g","x":0,"y":-6.4},{"c":"g","x":0.2,"y":-6.1},{"c":"g","x":0.68,"y":-5.3},{"c":"g","x":1.6,"y":-4.6},{"c":"g","x":3.4,"y":-4.2},{"c":"g","x":4.6,"y":-4.15},{"c":"g","x":5.4,"y":-4},{"c":"g","x":5.2,"y":-3.15},{"c":"g","x":4.5,"y":-2},{"c":"g","x":4.05,"y":-0.9}],
 "b3o": [
  {"c":"b","g":0,"x":0,"y":6.75},{"c":"b","g":0,"x":1.35,"y":8.1},{"c":"b","g":0,"x":3.15,"y":9.9},{"c":"b","g":0,"x":5.85,"y":11.7},{"c":"b","g":0,"x":8.6,"y":12.8},{"c":"b","g":0,"x":11,"y":13.3},{"c":"b","g":0,"x":12.8,"y":13.1},{"c":"b","g":0,"x":13.7,"y":11.9},{"c":"b","g":0,"x":14,"y":10.4},{"c":"b","g":0,"x":13.5,"y":8.1},{"c":"b","g":0,"x":12.2,"y":5.4},{"c":"b","g":0,"x":10.4,"y":3.15},{"c":"b","g":0,"x":8.6,"y":1.35},{"c":"b","g":0,"x":6.75,"y":-0.2},{"c":"b","g":0,"x":5.5,"y":-1},
  {"c":"b","g":1,"x":5.5,"y":-1},{"c":"b","g":1,"x":5.4,"y":-2.25},{"c":"b","g":1,"x":5.85,"y":-4.5},{"c":"b","g":1,"x":6.5,"y":-7.2},{"c":"b","g":1,"x":7.2,"y":-10.4},{"c":"b","g":1,"x":7,"y":-11.5},{"c":"b","g":1,"x":6.1,"y":-11.8},{"c":"b","g":1,"x":4.95,"y":-11.3},{"c":"b","g":1,"x":3.15,"y":-9.5},{"c":"b","g":1,"x":1.35,"y":-7.65},{"c":"b","g":1,"x":0,"y":-6.75},
  {"c":"b","g":2,"x":0,"y":-6.75},{"c":"b","g":2,"x":-1.35,"y":-8.1},{"c":"b","g":2,"x":-3.15,"y":-9.9},{"c":"b","g":2,"x":-5.85,"y":-11.7},{"c":"b","g":2,"x":-8.6,"y":-12.8},{"c":"b","g":2,"x":-11,"y":-13.3},{"c":"b","g":2,"x":-12.8,"y":-13.1},{"c":"b","g":2,"x":-13.7,"y":-11.9},{"c":"b","g":2,"x":-14,"y":-10.4},{"c":"b","g":2,"x":-13.5,"y":-8.1},{"c":"b","g":2,"x":-12.2,"y":-5.4},{"c":"b","g":2,"x":-10.4,"y":-3.15},{"c":"b","g":2,"x":-8.6,"y":-1.35},{"c":"b","g":2,"x":-6.75,"y":0.2},{"c":"b","g":2,"x":-5.5,"y":1},
  {"c":"b","g":3,"x":-5.5,"y":1},{"c":"b","g":3,"x":-5.4,"y":2.25},{"c":"b","g":3,"x":-5.85,"y":4.5},{"c":"b","g":3,"x":-6.5,"y":7.2},{"c":"b","g":3,"x":-7.2,"y":10.4},{"c":"b","g":3,"x":-7,"y":11.5},{"c":"b","g":3,"x":-6.1,"y":11.8},{"c":"b","g":3,"x":-4.95,"y":11.3},{"c":"b","g":3,"x":-3.15,"y":9.5},{"c":"b","g":3,"x":-1.35,"y":7.65},{"c":"b","g":3,"x":0,"y":6.75},
  {"c":"g","g":0,"x":0,"y":6.4},{"c":"g","g":0,"x":0.7,"y":5.4},{"c":"g","g":0,"x":2,"y":5.2},{"c":"g","g":0,"x":3.6,"y":5.6},{"c":"g","g":0,"x":5.85,"y":6.5},{"c":"g","g":0,"x":8.6,"y":7.2},{"c":"g","g":0,"x":9.9,"y":7.4},{"c":"g","g":0,"x":11.3,"y":7.2},{"c":"g","g":0,"x":11.8,"y":6.3},{"c":"g","g":0,"x":11.5,"y":5},{"c":"g","g":0,"x":10.23,"y":3.34},{"c":"g","g":0,"x":8.43,"y":1.54},{"c":"g","g":0,"x":6.6,"y":0},{"c":"g","g":0,"x":5.3,"y":-0.9},{"c":"g","g":0,"x":4.05,"y":-2.25},{"c":"g","g":0,"x":2.25,"y":-3.6},{"c":"g","g":0,"x":0.9,"y":-4.95},{"c":"g","g":0,"x":0.2,"y":-6.1},{"c":"g","g":0,"x":0,"y":-6.4},
  {"c":"g","g":1,"x":0,"y":-6.4},{"c":"g","g":1,"x":-0.7,"y":-5.4},{"c":"g","g":1,"x":-2,"y":-5.2},{"c":"g","g":1,"x":-3.6,"y":-5.6},{"c":"g","g":1,"x":-5.85,"y":-6.5},{"c":"g","g":1,"x":-8.6,"y":-7.2},{"c":"g","g":1,"x":-9.9,"y":-7.4},{"c":"g","g":1,"x":-11.3,"y":-7.2},{"c":"g","g":1,"x":-11.8,"y":-6.3},{"c":"g","g":1,"x":-11.5,"y":-5},{"c":"g","g":1,"x":-10.23,"y":-3.34},{"c":"g","g":1,"x":-8.43,"y":-1.54},{"c":"g","g":1,"x":-6.6,"y":0},{"c":"g","g":1,"x":-5.3,"y":0.9},{"c":"g","g":1,"x":-4.05,"y":2.25},{"c":"g","g":1,"x":-2.25,"y":3.6},{"c":"g","g":1,"x":-0.9,"y":4.95},{"c":"g","g":1,"x":-0.2,"y":6.1},{"c":"g","g":1,"x":0,"y":6.4}],
 "c1o": [
  {"c":"b","g":0,"x":0.403,"y":-0.233},{"c":"b","g":0,"x":0.462,"y":-0.216},{"c":"b","g":0,"x":0.564,"y":-0.205},{"c":"b","g":0,"x":0.666,"y":-0.179},{"c":"b","g":0,"x":0.758,"y":-0.134},{"c":"b","g":0,"x":0.812,"y":-0.071},{"c":"b","g":0,"x":0.83,"y":0},{"c":"b","g":0,"x":0.812,"y":0.071},{"c":"b","g":0,"x":0.758,"y":0.134},{"c":"b","g":0,"x":0.666,"y":0.179},{"c":"b","g":0,"x":0.564,"y":0.205},{"c":"b","g":0,"x":0.462,"y":0.216},{"c":"b","g":0,"x":0.403,"y":0.233},
  {"c":"b","g":1,"x":0.403,"y":0.233},{"c":"b","g":1,"x":0.418,"y":0.293},{"c":"b","g":1,"x":0.46,"y":0.386},{"c":"b","g":1,"x":0.488,"y":0.488},{"c":"b","g":1,"x":0.495,"y":0.59},{"c":"b","g":1,"x":0.467,"y":0.668},{"c":"b","g":1,"x":0.415,"y":0.719},{"c":"b","g":1,"x":0.344,"y":0.739},{"c":"b","g":1,"x":0.263,"y":0.724},{"c":"b","g":1,"x":0.179,"y":0.666},{"c":"b","g":1,"x":0.104,"y":0.591},{"c":"b","g":1,"x":0.044,"y":0.508},{"c":"b","g":1,"x":0,"y":0.465},
  {"c":"b","g":2,"x":-0.403,"y":0.233},{"c":"b","g":2,"x":-0.418,"y":0.293},{"c":"b","g":2,"x":-0.46,"y":0.386},{"c":"b","g":2,"x":-0.488,"y":0.488},{"c":"b","g":2,"x":-0.495,"y":0.59},{"c":"b","g":2,"x":-0.467,"y":0.668},{"c":"b","g":2,"x":-0.415,"y":0.719},{"c":"b","g":2,"x":-0.344,"y":0.739},{"c":"b","g":2,"x":-0.263,"y":0.724},{"c":"b","g":2,"x":-0.179,"y":0.666},{"c":"b","g":2,"x":-0.104,"y":0.591},{"c":"b","g":2,"x":-0.044,"y":0.508},{"c":"b","g":2,"x":0,"y":0.465},
  {"c":"b","g":3,"x":-0.403,"y":-0.233},{"c":"b","g":3,"x":-0.462,"y":-0.216},{"c":"b","g":3,"x":-0.564,"y":-0.205},{"c":"b","g":3,"x":-0.666,"y":-0.179},{"c":"b","g":3,"x":-0.758,"y":-0.134},{"c":"b","g":3,"x":-0.812,"y":-0.071},{"c":"b","g":3,"x":-0.83,"y":0},{"c":"b","g":3,"x":-0.812,"y":0.071},{"c":"b","g":3,"x":-0.758,"y":0.134},{"c":"b","g":3,"x":-0.666,"y":0.179},{"c":"b","g":3,"x":-0.564,"y":0.205},{"c":"b","g":3,"x":-0.462,"y":0.216},{"c":"b","g":3,"x":-0.403,"y":0.233},
  {"c":"b","g":4,"x":-0.403,"y":-0.233},{"c":"b","g":4,"x":-0.418,"y":-0.293},{"c":"b","g":4,"x":-0.46,"y":-0.386},{"c":"b","g":4,"x":-0.488,"y":-0.488},{"c":"b","g":4,"x":-0.495,"y":-0.59},{"c":"b","g":4,"x":-0.467,"y":-0.668},{"c":"b","g":4,"x":-0.415,"y":-0.719},{"c":"b","g":4,"x":-0.344,"y":-0.739},{"c":"b","g":4,"x":-0.263,"y":-0.724},{"c":"b","g":4,"x":-0.179,"y":-0.666},{"c":"b","g":4,"x":-0.104,"y":-0.591},{"c":"b","g":4,"x":-0.044,"y":-0.508},{"c":"b","g":4,"x":0,"y":-0.465},
  {"c":"b","g":5,"x":0.403,"y":-0.233},{"c":"b","g":5,"x":0.418,"y":-0.293},{"c":"b","g":5,"x":0.46,"y":-0.386},{"c":"b","g":5,"x":0.488,"y":-0.488},{"c":"b","g":5,"x":0.495,"y":-0.59},{"c":"b","g":5,"x":0.467,"y":-0.668},{"c":"b","g":5,"x":0.415,"y":-0.719},{"c":"b","g":5,"x":0.344,"y":-0.739},{"c":"b","g":5,"x":0.263,"y":-0.724},{"c":"b","g":5,"x":0.179,"y":-0.666},{"c":"b","g":5,"x":0.104,"y":-0.591},{"c":"b","g":5,"x":0.044,"y":-0.508},{"c":"b","g":5,"x":0,"y":-0.465}],
 "c1c": [
  {"c":"r","g":0,"x":0,"y":0},{"c":"r","g":0,"x":0.0241,"y":0.0141},{"c":"r","g":0,"x":0.0825,"y":0.02},{"c":"r","g":0,"x":0.1409,"y":0.0141},{"c":"r","g":0,"x":0.165,"y":0},{"c":"r","g":0,"x":0.1409,"y":-0.0141},{"c":"r","g":0,"x":0.0825,"y":-0.02},{"c":"r","g":0,"x":0.0241,"y":-0.0141},
  {"c":"r","g":1,"x":0,"y":0},{"c":"r","g":1,"x":-0.0002,"y":0.0279},{"c":"r","g":1,"x":0.0239,"y":0.0814},{"c":"r","g":1,"x":0.0582,"y":0.1291},{"c":"r","g":1,"x":0.0825,"y":0.1429},{"c":"r","g":1,"x":0.0827,"y":0.115},{"c":"r","g":1,"x":0.0586,"y":0.0614},{"c":"r","g":1,"x":0.0243,"y":0.0138},
  {"c":"r","g":2,"x":0,"y":0},{"c":"r","g":2,"x":0.0002,"y":0.0279},{"c":"r","g":2,"x":-0.0239,"y":0.0814},{"c":"r","g":2,"x":-0.0582,"y":0.1291},{"c":"r","g":2,"x":-0.0825,"y":0.1429},{"c":"r","g":2,"x":-0.0827,"y":0.115},{"c":"r","g":2,"x":-0.0586,"y":0.0614},{"c":"r","g":2,"x":-0.0243,"y":0.0138},
  {"c":"r","g":3,"x":0,"y":0},{"c":"r","g":3,"x":-0.0241,"y":0.0141},{"c":"r","g":3,"x":-0.0825,"y":0.02},{"c":"r","g":3,"x":-0.1409,"y":0.0141},{"c":"r","g":3,"x":-0.165,"y":0},{"c":"r","g":3,"x":-0.1409,"y":-0.0141},{"c":"r","g":3,"x":-0.0825,"y":-0.02},{"c":"r","g":3,"x":-0.0241,"y":-0.0141},
  {"c":"r","g":4,"x":0,"y":0},{"c":"r","g":4,"x":0.0002,"y":-0.0279},{"c":"r","g":4,"x":-0.0239,"y":-0.0814},{"c":"r","g":4,"x":-0.0582,"y":-0.1291},{"c":"r","g":4,"x":-0.0825,"y":-0.1429},{"c":"r","g":4,"x":-0.0827,"y":-0.115},{"c":"r","g":4,"x":-0.0586,"y":-0.0614},{"c":"r","g":4,"x":-0.0243,"y":-0.0138},
  {"c":"r","g":5,"x":0,"y":0},{"c":"r","g":5,"x":-0.0002,"y":-0.0279},{"c":"r","g":5,"x":0.0239,"y":-0.0814},{"c":"r","g":5,"x":0.0582,"y":-0.1291},{"c":"r","g":5,"x":0.0825,"y":-0.1429},{"c":"r","g":5,"x":0.0827,"y":-0.115},{"c":"r","g":5,"x":0.0586,"y":-0.0614},{"c":"r","g":5,"x":0.0243,"y":-0.0138},
  {"c":"g","g":0,"x":0,"y":0},{"c":"g","g":0,"x":-0.0177,"y":0.0307},{"c":"g","g":0,"x":-0.025,"y":0.105},{"c":"g","g":0,"x":-0.0177,"y":0.1793},{"c":"g","g":0,"x":0,"y":0.21},{"c":"g","g":0,"x":0.0177,"y":0.1793},{"c":"g","g":0,"x":0.025,"y":0.105},{"c":"g","g":0,"x":0.0177,"y":0.0307},
  {"c":"g","g":1,"x":0,"y":0},{"c":"g","g":1,"x":0.0177,"y":-0.0307},{"c":"g","g":1,"x":0.025,"y":-0.105},{"c":"g","g":1,"x":0.0177,"y":-0.1793},{"c":"g","g":1,"x":0,"y":-0.21},{"c":"g","g":1,"x":-0.0177,"y":-0.1793},{"c":"g","g":1,"x":-0.025,"y":-0.105},{"c":"g","g":1,"x":-0.0177,"y":-0.0307},
  {"c":"g","g":2,"x":0,"y":0},{"c":"g","g":2,"x":0.0177,"y":0.0307},{"c":"g","g":2,"x":0.0784,"y":0.0742},{"c":"g","g":2,"x":0.1464,"y":0.105},{"c":"g","g":2,"x":0.1819,"y":0.105},{"c":"g","g":2,"x":0.1641,"y":0.0743},{"c":"g","g":2,"x":0.1034,"y":0.0309},{"c":"g","g":2,"x":0.0354,"y":0},
  {"c":"g","g":3,"x":0,"y":0},{"c":"g","g":3,"x":-0.0177,"y":0.0307},{"c":"g","g":3,"x":-0.0784,"y":0.0742},{"c":"g","g":3,"x":-0.1464,"y":0.105},{"c":"g","g":3,"x":-0.1819,"y":0.105},{"c":"g","g":3,"x":-0.1641,"y":0.0743},{"c":"g","g":3,"x":-0.1034,"y":0.0309},{"c":"g","g":3,"x":-0.0354,"y":0},
  {"c":"g","g":4,"x":0,"y":0},{"c":"g","g":4,"x":-0.0177,"y":-0.0307},{"c":"g","g":4,"x":-0.0784,"y":-0.0742},{"c":"g","g":4,"x":-0.1464,"y":-0.105},{"c":"g","g":4,"x":-0.1819,"y":-0.105},{"c":"g","g":4,"x":-0.1641,"y":-0.0743},{"c":"g","g":4,"x":-0.1034,"y":-0.0309},{"c":"g","g":4,"x":-0.0354,"y":0},
  {"c":"g","g":5,"x":0,"y":0},{"c":"g","g":5,"x":0.0177,"y":-0.0307},{"c":"g","g":5,"x":0.0784,"y":-0.0742},{"c":"g","g":5,"x":0.1464,"y":-0.105},{"c":"g","g":5,"x":0.1819,"y":-0.105},{"c":"g","g":5,"x":0.1641,"y":-0.0743},{"c":"g","g":5,"x":0.1034,"y":-0.0309},{"c":"g","g":5,"x":0.0354,"y":0}],
 "c2o": [
  {"c":"b","g":0,"x":0.34,"y":-0.235},{"c":"b","g":0,"x":0.47,"y":-0.232},{"c":"b","g":0,"x":0.62,"y":-0.222},{"c":"b","g":0,"x":0.7,"y":-0.2},{"c":"b","g":0,"x":0.76,"y":-0.16},{"c":"b","g":0,"x":0.8,"y":-0.09},{"c":"b","g":0,"x":0.82,"y":0},{"c":"b","g":0,"x":0.8,"y":0.09},{"c":"b","g":0,"x":0.76,"y":0.16},{"c":"b","g":0,"x":0.7,"y":0.2},{"c":"b","g":0,"x":0.62,"y":0.222},{"c":"b","g":0,"x":0.47,"y":0.232},{"c":"b","g":0,"x":0.34,"y":0.235},
  {"c":"b","g":1,"x":0.34,"y":0.235},{"c":"b","g":1,"x":0.33,"y":0.27},{"c":"b","g":1,"x":0.345,"y":0.33},{"c":"b","g":1,"x":0.372,"y":0.42},{"c":"b","g":1,"x":0.39,"y":0.52},{"c":"b","g":1,"x":0.385,"y":0.595},{"c":"b","g":1,"x":0.365,"y":0.625},{"c":"b","g":1,"x":0.35,"y":0.638},{"c":"b","g":1,"x":0.338,"y":0.658},{"c":"b","g":1,"x":0.3,"y":0.669},{"c":"b","g":1,"x":0.255,"y":0.672},{"c":"b","g":1,"x":0.205,"y":0.657},{"c":"b","g":1,"x":0.15,"y":0.607},{"c":"b","g":1,"x":0.085,"y":0.511},{"c":"b","g":1,"x":0.035,"y":0.414},{"c":"b","g":1,"x":0,"y":0.35},
  {"c":"b","g":2,"x":-0.34,"y":0.235},{"c":"b","g":2,"x":-0.33,"y":0.27},{"c":"b","g":2,"x":-0.345,"y":0.33},{"c":"b","g":2,"x":-0.372,"y":0.42},{"c":"b","g":2,"x":-0.39,"y":0.52},{"c":"b","g":2,"x":-0.385,"y":0.595},{"c":"b","g":2,"x":-0.365,"y":0.625},{"c":"b","g":2,"x":-0.35,"y":0.638},{"c":"b","g":2,"x":-0.338,"y":0.658},{"c":"b","g":2,"x":-0.3,"y":0.669},{"c":"b","g":2,"x":-0.255,"y":0.672},{"c":"b","g":2,"x":-0.205,"y":0.657},{"c":"b","g":2,"x":-0.15,"y":0.607},{"c":"b","g":2,"x":-0.085,"y":0.511},{"c":"b","g":2,"x":-0.035,"y":0.414},{"c":"b","g":2,"x":0,"y":0.35},
  {"c":"b","g":3,"x":-0.34,"y":-0.235},{"c":"b","g":3,"x":-0.47,"y":-0.232},{"c":"b","g":3,"x":-0.62,"y":-0.222},{"c":"b","g":3,"x":-0.7,"y":-0.2},{"c":"b","g":3,"x":-0.76,"y":-0.16},{"c":"b","g":3,"x":-0.8,"y":-0.09},{"c":"b","g":3,"x":-0.82,"y":0},{"c":"b","g":3,"x":-0.8,"y":0.09},{"c":"b","g":3,"x":-0.76,"y":0.16},{"c":"b","g":3,"x":-0.7,"y":0.2},{"c":"b","g":3,"x":-0.62,"y":0.222},{"c":"b","g":3,"x":-0.47,"y":0.232},{"c":"b","g":3,"x":-0.34,"y":0.235},
  {"c":"b","g":4,"x":-0.34,"y":-0.235},{"c":"b","g":4,"x":-0.33,"y":-0.27},{"c":"b","g":4,"x":-0.345,"y":-0.33},{"c":"b","g":4,"x":-0.372,"y":-0.42},{"c":"b","g":4,"x":-0.39,"y":-0.52},{"c":"b","g":4,"x":-0.385,"y":-0.595},{"c":"b","g":4,"x":-0.365,"y":-0.625},{"c":"b","g":4,"x":-0.35,"y":-0.638},{"c":"b","g":4,"x":-0.338,"y":-0.658},{"c":"b","g":4,"x":-0.3,"y":-0.669},{"c":"b","g":4,"x":-0.255,"y":-0.672},{"c":"b","g":4,"x":-0.205,"y":-0.657},{"c":"b","g":4,"x":-0.15,"y":-0.607},{"c":"b","g":4,"x":-0.085,"y":-0.511},{"c":"b","g":4,"x":-0.035,"y":-0.414},{"c":"b","g":4,"x":0,"y":-0.35},
  {"c":"b","g":5,"x":0.34,"y":-0.235},{"c":"b","g":5,"x":0.33,"y":-0.27},{"c":"b","g":5,"x":0.345,"y":-0.33},{"c":"b","g":5,"x":0.372,"y":-0.42},{"c":"b","g":5,"x":0.39,"y":-0.52},{"c":"b","g":5,"x":0.385,"y":-0.595},{"c":"b","g":5,"x":0.365,"y":-0.625},{"c":"b","g":5,"x":0.35,"y":-0.638},{"c":"b","g":5,"x":0.338,"y":-0.658},{"c":"b","g":5,"x":0.3,"y":-0.669},{"c":"b","g":5,"x":0.255,"y":-0.672},{"c":"b","g":5,"x":0.205,"y":-0.657},{"c":"b","g":5,"x":0.15,"y":-0.607},{"c":"b","g":5,"x":0.085,"y":-0.511},{"c":"b","g":5,"x":0.035,"y":-0.414},{"c":"b","g":5,"x":0,"y":-0.35}],
 "c2c": [
  {"c":"r","g":0,"x":0,"y":0},{"c":"r","g":0,"x":0.0234,"y":0.012},{"c":"r","g":0,"x":0.08,"y":0.017},{"c":"r","g":0,"x":0.1366,"y":0.012},{"c":"r","g":0,"x":0.16,"y":0},{"c":"r","g":0,"x":0.1366,"y":-0.012},{"c":"r","g":0,"x":0.08,"y":-0.017},{"c":"r","g":0,"x":0.0234,"y":-0.012},
  {"c":"r","g":1,"x":0,"y":0},{"c":"r","g":1,"x":-0.0234,"y":0.012},{"c":"r","g":1,"x":-0.08,"y":0.017},{"c":"r","g":1,"x":-0.1366,"y":0.012},{"c":"r","g":1,"x":-0.16,"y":0},{"c":"r","g":1,"x":-0.1366,"y":-0.012},{"c":"r","g":1,"x":-0.08,"y":-0.017},{"c":"r","g":1,"x":-0.0234,"y":-0.012},
  {"c":"g","g":0,"x":0,"y":0},{"c":"g","g":0,"x":-0.012,"y":0.0483},{"c":"g","g":0,"x":-0.017,"y":0.165},{"c":"g","g":0,"x":-0.012,"y":0.2817},{"c":"g","g":0,"x":0,"y":0.33},{"c":"g","g":0,"x":0.012,"y":0.2817},{"c":"g","g":0,"x":0.017,"y":0.165},{"c":"g","g":0,"x":0.012,"y":0.0483},
  {"c":"g","g":1,"x":0,"y":0},{"c":"g","g":1,"x":0.012,"y":-0.0483},{"c":"g","g":1,"x":0.017,"y":-0.165},{"c":"g","g":1,"x":0.012,"y":-0.2817},{"c":"g","g":1,"x":0,"y":-0.33},{"c":"g","g":1,"x":-0.012,"y":-0.2817},{"c":"g","g":1,"x":-0.017,"y":-0.165},{"c":"g","g":1,"x":-0.012,"y":-0.0483},
  {"c":"g","g":2,"x":0,"y":0},{"c":"g","g":2,"x":0.0294,"y":0.0422},{"c":"g","g":2,"x":0.1208,"y":0.1151},{"c":"g","g":2,"x":0.2206,"y":0.1761},{"c":"g","g":2,"x":0.2703,"y":0.1893},{"c":"g","g":2,"x":0.2409,"y":0.1471},{"c":"g","g":2,"x":0.1495,"y":0.0742},{"c":"g","g":2,"x":0.0497,"y":0.0132},
  {"c":"g","g":3,"x":0,"y":0},{"c":"g","g":3,"x":-0.0294,"y":0.0422},{"c":"g","g":3,"x":-0.1208,"y":0.1151},{"c":"g","g":3,"x":-0.2206,"y":0.1761},{"c":"g","g":3,"x":-0.2703,"y":0.1893},{"c":"g","g":3,"x":-0.2409,"y":0.1471},{"c":"g","g":3,"x":-0.1495,"y":0.0742},{"c":"g","g":3,"x":-0.0497,"y":0.0132},
  {"c":"g","g":4,"x":0,"y":0},{"c":"g","g":4,"x":-0.0294,"y":-0.0422},{"c":"g","g":4,"x":-0.1208,"y":-0.1151},{"c":"g","g":4,"x":-0.2206,"y":-0.1761},{"c":"g","g":4,"x":-0.2703,"y":-0.1893},{"c":"g","g":4,"x":-0.2409,"y":-0.1471},{"c":"g","g":4,"x":-0.1495,"y":-0.0742},{"c":"g","g":4,"x":-0.0497,"y":-0.0132},
  {"c":"g","g":5,"x":0,"y":0},{"c":"g","g":5,"x":0.0294,"y":-0.0422},{"c":"g","g":5,"x":0.1208,"y":-0.1151},{"c":"g","g":5,"x":0.2206,"y":-0.1761},{"c":"g","g":5,"x":0.2703,"y":-0.1893},{"c":"g","g":5,"x":0.2409,"y":-0.1471},{"c":"g","g":5,"x":0.1495,"y":-0.0742},{"c":"g","g":5,"x":0.0497,"y":-0.0132}],
 "c3o": [
  {"c":"b","g":0,"x":0,"y":0.34},{"c":"b","g":0,"x":0.047,"y":0.466},{"c":"b","g":0,"x":0.111,"y":0.562},{"c":"b","g":0,"x":0.197,"y":0.6},{"c":"b","g":0,"x":0.261,"y":0.594},{"c":"b","g":0,"x":0.314,"y":0.541},{"c":"b","g":0,"x":0.368,"y":0.423},{"c":"b","g":0,"x":0.421,"y":0.274},{"c":"b","g":0,"x":0.453,"y":0.145},{"c":"b","g":0,"x":0.462,"y":0.06},{"c":"b","g":0,"x":0.45,"y":-0.02},{"c":"b","g":0,"x":0.41,"y":-0.055},{"c":"b","g":0,"x":0.34,"y":-0.062},{"c":"b","g":0,"x":0.26,"y":-0.06},{"c":"b","g":0,"x":0.18,"y":-0.058},
  {"c":"b","g":1,"x":0.18,"y":-0.058},{"c":"b","g":1,"x":0.24,"y":-0.1},{"c":"b","g":1,"x":0.31,"y":-0.16},{"c":"b","g":1,"x":0.387,"y":-0.218},{"c":"b","g":1,"x":0.494,"y":-0.346},{"c":"b","g":1,"x":0.557,"y":-0.496},{"c":"b","g":1,"x":0.547,"y":-0.645},{"c":"b","g":1,"x":0.494,"y":-0.731},{"c":"b","g":1,"x":0.366,"y":-0.763},{"c":"b","g":1,"x":0.26,"y":-0.731},{"c":"b","g":1,"x":0.153,"y":-0.6},{"c":"b","g":1,"x":0.068,"y":-0.474},{"c":"b","g":1,"x":0.015,"y":-0.378},{"c":"b","g":1,"x":0,"y":-0.34},
  {"c":"b","g":2,"x":0,"y":-0.34},{"c":"b","g":2,"x":-0.047,"y":-0.466},{"c":"b","g":2,"x":-0.111,"y":-0.562},{"c":"b","g":2,"x":-0.197,"y":-0.6},{"c":"b","g":2,"x":-0.261,"y":-0.594},{"c":"b","g":2,"x":-0.314,"y":-0.541},{"c":"b","g":2,"x":-0.368,"y":-0.423},{"c":"b","g":2,"x":-0.421,"y":-0.274},{"c":"b","g":2,"x":-0.453,"y":-0.145},{"c":"b","g":2,"x":-0.462,"y":-0.06},{"c":"b","g":2,"x":-0.45,"y":0.02},{"c":"b","g":2,"x":-0.41,"y":0.055},{"c":"b","g":2,"x":-0.34,"y":0.062},{"c":"b","g":2,"x":-0.26,"y":0.06},{"c":"b","g":2,"x":-0.18,"y":0.058},
  {"c":"b","g":3,"x":-0.18,"y":0.058},{"c":"b","g":3,"x":-0.24,"y":0.1},{"c":"b","g":3,"x":-0.31,"y":0.16},{"c":"b","g":3,"x":-0.387,"y":0.218},{"c":"b","g":3,"x":-0.494,"y":0.346},{"c":"b","g":3,"x":-0.557,"y":0.496},{"c":"b","g":3,"x":-0.547,"y":0.645},{"c":"b","g":3,"x":-0.494,"y":0.731},{"c":"b","g":3,"x":-0.366,"y":0.763},{"c":"b","g":3,"x":-0.26,"y":0.731},{"c":"b","g":3,"x":-0.153,"y":0.6},{"c":"b","g":3,"x":-0.068,"y":0.474},{"c":"b","g":3,"x":-0.015,"y":0.378},{"c":"b","g":3,"x":0,"y":0.34}],
 "c3c": [
  {"c":"r","g":0,"x":0,"y":0},{"c":"r","g":0,"x":-0.0438,"y":0.0082},{"c":"r","g":0,"x":-0.1062,"y":0.0643},{"c":"r","g":0,"x":-0.1506,"y":0.1355},{"c":"r","g":0,"x":-0.1511,"y":0.18},{"c":"r","g":0,"x":-0.1073,"y":0.1719},{"c":"r","g":0,"x":-0.0449,"y":0.1157},{"c":"r","g":0,"x":-0.0004,"y":0.0445},
  {"c":"r","g":1,"x":0,"y":0},{"c":"r","g":1,"x":0.0438,"y":-0.0082},{"c":"r","g":1,"x":0.1062,"y":-0.0643},{"c":"r","g":1,"x":0.1506,"y":-0.1355},{"c":"r","g":1,"x":0.1511,"y":-0.18},{"c":"r","g":1,"x":0.1073,"y":-0.1719},{"c":"r","g":1,"x":0.0449,"y":-0.1157},{"c":"r","g":1,"x":0.0004,"y":-0.0445},
  {"c":"g","g":0,"x":0,"y":0.31},{"c":"g","g":0,"x":0.006,"y":0.24},{"c":"g","g":0,"x":0.01,"y":0.16},{"c":"g","g":0,"x":0.012,"y":0.1},{"c":"g","g":0,"x":0.02,"y":0.07},{"c":"g","g":0,"x":0.045,"y":0.085},{"c":"g","g":0,"x":0.089,"y":0.145},{"c":"g","g":0,"x":0.153,"y":0.198},{"c":"g","g":0,"x":0.228,"y":0.219},{"c":"g","g":0,"x":0.291,"y":0.204},{"c":"g","g":0,"x":0.323,"y":0.155},{"c":"g","g":0,"x":0.319,"y":0.091},{"c":"g","g":0,"x":0.281,"y":0.038},{"c":"g","g":0,"x":0.217,"y":0.008},{"c":"g","g":0,"x":0.15,"y":-0.01},{"c":"g","g":0,"x":0.1,"y":-0.02},{"c":"g","g":0,"x":0.16,"y":-0.055},{"c":"g","g":0,"x":0.09,"y":-0.045},{"c":"g","g":0,"x":0.04,"y":-0.04},{"c":"g","g":0,"x":0.015,"y":-0.07},{"c":"g","g":0,"x":0.012,"y":-0.12},{"c":"g","g":0,"x":0.009,"y":-0.2},{"c":"g","g":0,"x":0.005,"y":-0.26},
  {"c":"g","g":0,"x":0,"y":-0.31},{"c":"g","g":0,"x":-0.006,"y":-0.24},{"c":"g","g":0,"x":-0.01,"y":-0.16},{"c":"g","g":0,"x":-0.012,"y":-0.1},{"c":"g","g":0,"x":-0.02,"y":-0.07},{"c":"g","g":0,"x":-0.045,"y":-0.085},{"c":"g","g":0,"x":-0.089,"y":-0.145},{"c":"g","g":0,"x":-0.153,"y":-0.198},{"c":"g","g":0,"x":-0.228,"y":-0.219},{"c":"g","g":0,"x":-0.291,"y":-0.204},{"c":"g","g":0,"x":-0.323,"y":-0.155},{"c":"g","g":0,"x":-0.319,"y":-0.091},{"c":"g","g":0,"x":-0.281,"y":-0.038},{"c":"g","g":0,"x":-0.217,"y":-0.008},{"c":"g","g":0,"x":-0.15,"y":0.01},{"c":"g","g":0,"x":-0.1,"y":0.02},{"c":"g","g":0,"x":-0.16,"y":0.055},{"c":"g","g":0,"x":-0.09,"y":0.045},{"c":"g","g":0,"x":-0.04,"y":0.04},{"c":"g","g":0,"x":-0.015,"y":0.07},{"c":"g","g":0,"x":-0.012,"y":0.12},{"c":"g","g":0,"x":-0.009,"y":0.2},{"c":"g","g":0,"x":-0.005,"y":0.26}]
},
"vconcat": [
 {"hconcat": [
  {"width":316,"height":320,"title":"Young's modulus in (xy) plane","layer":[
   {"data":{"name":"hx_a1"},"mark":{"type":"line","color":"#7a7a7a","strokeWidth":1.5},"encoding":{"x":{"field":"x","type":"quantitative","scale":{"domain":[-49.3,49.45],"nice":false,"zero":false},"axis":{"values":[-40,-30,-20,-10,10,20,30,40],"title":null,"grid":true,"gridColor":"#dedede","labels":false,"ticks":false,"domain":false}},"y":{"field":"y","type":"quantitative","scale":{"domain":[-49.7,50.3],"nice":false,"zero":false},"axis":{"values":[-40,-30,-20,-10,10,20,30,40],"title":null,"grid":true,"gridColor":"#dedede","labels":false,"ticks":false,"domain":false}}}},
   {"data":{"name":"vy_a1"},"mark":{"type":"line","color":"#7a7a7a","strokeWidth":1.5},"encoding":{"x":{"field":"x","type":"quantitative","axis":null},"y":{"field":"y","type":"quantitative","axis":null}}},
   {"data":{"name":"wb_a1"},"mark":{"type":"line","color":"white","strokeWidth":77},"encoding":{"x":{"field":"x","type":"quantitative","axis":null},"y":{"field":"y","type":"quantitative","axis":null}}},
   {"data":{"name":"mx_a1"},"mark":{"type":"tick","orient":"vertical","size":6,"thickness":1,"color":"#a0a0a0"},"encoding":{"x":{"field":"v","type":"quantitative","axis":null},"y":{"datum":0}}},
   {"data":{"name":"my_a1"},"mark":{"type":"text","fontSize":10,"color":"#a0a0a0"},"encoding":{"x":{"field":"x","type":"quantitative","axis":null},"y":{"field":"y","type":"quantitative","axis":null},"text":{"field":"s"}}},
   {"data":{"name":"ar_a1"},"mark":{"type":"text","fontSize":10,"color":"#6a6a6a"},"encoding":{"x":{"field":"x","type":"quantitative","axis":null},"y":{"field":"y","type":"quantitative","axis":null},"text":{"field":"s"}}},
   {"data":{"name":"a1c"},"transform":[{"window":[{"op":"row_number","as":"i"}]}],"mark":{"type":"line","interpolate":"cardinal-closed","strokeWidth":2.5},"encoding":{"x":{"field":"x","type":"quantitative","axis":null},"y":{"field":"y","type":"quantitative","axis":null},"color":{"field":"c","type":"nominal","scale":{"domain":["b","g","r"],"range":["#0000ee","#1b8c1b","#ee1111"]},"legend":null},"order":{"field":"i","type":"quantitative"}}},
   {"data":{"name":"lx_a1"},"mark":{"type":"text","dy":9,"baseline":"middle"},"encoding":{"x":{"field":"v","type":"quantitative","axis":null},"y":{"datum":0},"text":{"field":"s"}}},
   {"data":{"name":"ly_a1"},"mark":{"type":"text","fontSize":13,"color":"#333"},"encoding":{"x":{"field":"x","type":"quantitative","axis":null},"y":{"field":"y","type":"quantitative","axis":null},"text":{"field":"s"}}},
   {"data":{"name":"tb_a1"},"mark":{"type":"text","fontSize":15,"color":"#555"},"encoding":{"x":{"field":"x","type":"quantitative","axis":null},"y":{"field":"y","type":"quantitative","axis":null},"text":{"field":"s"}}},
   {"data":{"name":"la_a1"},"mark":{"type":"text","fontSize":25,"color":"#000"},"encoding":{"x":{"field":"x","type":"quantitative","axis":null},"y":{"field":"y","type":"quantitative","axis":null},"text":{"field":"s"}}}
  ]},
  {"width":316,"height":320,"title":"Young's modulus in (xz) plane","layer":[
   {"data":{"name":"hx_a2"},"mark":{"type":"line","color":"#7a7a7a","strokeWidth":1.5},"encoding":{"x":{"field":"x","type":"quantitative","scale":{"domain":[-49.3,49.45],"nice":false,"zero":false},"axis":{"values":[-40,-30,-20,-10,10,20,30,40],"title":null,"grid":true,"gridColor":"#dedede","labels":false,"ticks":false,"domain":false}},"y":{"field":"y","type":"quantitative","scale":{"domain":[-49.7,50.3],"nice":false,"zero":false},"axis":{"values":[-40,-30,-20,-10,10,20,30,40],"title":null,"grid":true,"gridColor":"#dedede","labels":false,"ticks":false,"domain":false}}}},
   {"data":{"name":"vy_a2"},"mark":{"type":"line","color":"#7a7a7a","strokeWidth":1.5},"encoding":{"x":{"field":"x","type":"quantitative","axis":null},"y":{"field":"y","type":"quantitative","axis":null}}},
   {"data":{"name":"mx_a2"},"mark":{"type":"tick","orient":"vertical","size":6,"thickness":1,"color":"#a0a0a0"},"encoding":{"x":{"field":"v","type":"quantitative","axis":null},"y":{"datum":0}}},
   {"data":{"name":"my_a2"},"mark":{"type":"text","fontSize":10,"color":"#a0a0a0"},"encoding":{"x":{"field":"x","type":"quantitative","axis":null},"y":{"field":"y","type":"quantitative","axis":null},"text":{"field":"s"}}},
   {"data":{"name":"ar_a2"},"mark":{"type":"text","fontSize":10,"color":"#6a6a6a"},"encoding":{"x":{"field":"x","type":"quantitative","axis":null},"y":{"field":"y","type":"quantitative","axis":null},"text":{"field":"s"}}},
   {"data":{"name":"a2c"},"transform":[{"window":[{"op":"row_number","as":"i"}]}],"mark":{"type":"line","interpolate":"cardinal-closed","strokeWidth":2.5},"encoding":{"x":{"field":"x","type":"quantitative","axis":null},"y":{"field":"y","type":"quantitative","axis":null},"color":{"field":"c","type":"nominal","scale":{"domain":["b","g","r"],"range":["#0000ee","#1b8c1b","#ee1111"]},"legend":null},"order":{"field":"i","type":"quantitative"}}},
   {"data":{"name":"lx_a2"},"mark":{"type":"text","dy":9,"baseline":"middle"},"encoding":{"x":{"field":"v","type":"quantitative","axis":null},"y":{"datum":0},"text":{"field":"s"}}},
   {"data":{"name":"ly_a2"},"mark":{"type":"text","fontSize":13,"color":"#333"},"encoding":{"x":{"field":"x","type":"quantitative","axis":null},"y":{"field":"y","type":"quantitative","axis":null},"text":{"field":"s"}}},
   {"data":{"name":"tb_a2"},"mark":{"type":"text","fontSize":15,"color":"#555"},"encoding":{"x":{"field":"x","type":"quantitative","axis":null},"y":{"field":"y","type":"quantitative","axis":null},"text":{"field":"s"}}}
  ]},
  {"width":316,"height":320,"title":"Young's modulus in (yz) plane","layer":[
   {"data":{"name":"hx_a3"},"mark":{"type":"line","color":"#7a7a7a","strokeWidth":1.5},"encoding":{"x":{"field":"x","type":"quantitative","scale":{"domain":[-49.3,49.45],"nice":false,"zero":false},"axis":{"values":[-40,-30,-20,-10,10,20,30,40],"title":null,"grid":true,"gridColor":"#dedede","labels":false,"ticks":false,"domain":false}},"y":{"field":"y","type":"quantitative","scale":{"domain":[-49.7,50.3],"nice":false,"zero":false},"axis":{"values":[-40,-30,-20,-10,10,20,30,40],"title":null,"grid":true,"gridColor":"#dedede","labels":false,"ticks":false,"domain":false}}}},
   {"data":{"name":"vy_a3"},"mark":{"type":"line","color":"#7a7a7a","strokeWidth":1.5},"encoding":{"x":{"field":"x","type":"quantitative","axis":null},"y":{"field":"y","type":"quantitative","axis":null}}},
   {"data":{"name":"mx_a3"},"mark":{"type":"tick","orient":"vertical","size":6,"thickness":1,"color":"#a0a0a0"},"encoding":{"x":{"field":"v","type":"quantitative","axis":null},"y":{"datum":0}}},
   {"data":{"name":"my_a3"},"mark":{"type":"text","fontSize":10,"color":"#a0a0a0"},"encoding":{"x":{"field":"x","type":"quantitative","axis":null},"y":{"field":"y","type":"quantitative","axis":null},"text":{"field":"s"}}},
   {"data":{"name":"ar_a3"},"mark":{"type":"text","fontSize":10,"color":"#6a6a6a"},"encoding":{"x":{"field":"x","type":"quantitative","axis":null},"y":{"field":"y","type":"quantitative","axis":null},"text":{"field":"s"}}},
   {"data":{"name":"a3c"},"transform":[{"window":[{"op":"row_number","as":"i"}]}],"mark":{"type":"line","interpolate":"cardinal-closed","strokeWidth":2.5},"encoding":{"x":{"field":"x","type":"quantitative","axis":null},"y":{"field":"y","type":"quantitative","axis":null},"color":{"field":"c","type":"nominal","scale":{"domain":["b","g","r"],"range":["#0000ee","#1b8c1b","#ee1111"]},"legend":null},"order":{"field":"i","type":"quantitative"}}},
   {"data":{"name":"lx_a3"},"mark":{"type":"text","dy":9,"baseline":"middle"},"encoding":{"x":{"field":"v","type":"quantitative","axis":null},"y":{"datum":0},"text":{"field":"s"}}},
   {"data":{"name":"ly_a3"},"mark":{"type":"text","fontSize":13,"color":"#333"},"encoding":{"x":{"field":"x","type":"quantitative","axis":null},"y":{"field":"y","type":"quantitative","axis":null},"text":{"field":"s"}}},
   {"data":{"name":"tb_a3"},"mark":{"type":"text","fontSize":15,"color":"#555"},"encoding":{"x":{"field":"x","type":"quantitative","axis":null},"y":{"field":"y","type":"quantitative","axis":null},"text":{"field":"s"}}}
  ]}
 ], "spacing": 28, "bounds": "flush"},
 {"hconcat": [
  {"width":316,"height":320,"title":"Shear modulus in (xy) plane","layer":[
   {"data":{"name":"hx_b1"},"mark":{"type":"line","color":"#7a7a7a","strokeWidth":1.5},"encoding":{"x":{"field":"x","type":"quantitative","scale":{"domain":[-21.3,21.5],"nice":false,"zero":false},"axis":{"values":[-20,-15,-10,-5,5,10,15,20],"title":null,"grid":true,"gridColor":"#dedede","labels":false,"ticks":false,"domain":false}},"y":{"field":"y","type":"quantitative","scale":{"domain":[-21.68,21.68],"nice":false,"zero":false},"axis":{"values":[-20,-15,-10,-5,5,10,15,20],"title":null,"grid":true,"gridColor":"#dedede","labels":false,"ticks":false,"domain":false}}}},
   {"data":{"name":"vy_b1"},"mark":{"type":"line","color":"#7a7a7a","strokeWidth":1.5},"encoding":{"x":{"field":"x","type":"quantitative","axis":null},"y":{"field":"y","type":"quantitative","axis":null}}},
   {"data":{"name":"wb_b1"},"mark":{"type":"line","color":"white","strokeWidth":74},"encoding":{"x":{"field":"x","type":"quantitative","axis":null},"y":{"field":"y","type":"quantitative","axis":null}}},
   {"data":{"name":"mx_b1"},"mark":{"type":"tick","orient":"vertical","size":6,"thickness":1,"color":"#a0a0a0"},"encoding":{"x":{"field":"v","type":"quantitative","axis":null},"y":{"datum":0}}},
   {"data":{"name":"my_b1"},"mark":{"type":"text","fontSize":10,"color":"#a0a0a0"},"encoding":{"x":{"field":"x","type":"quantitative","axis":null},"y":{"field":"y","type":"quantitative","axis":null},"text":{"field":"s"}}},
   {"data":{"name":"ar_b1"},"mark":{"type":"text","fontSize":10,"color":"#6a6a6a"},"encoding":{"x":{"field":"x","type":"quantitative","axis":null},"y":{"field":"y","type":"quantitative","axis":null},"text":{"field":"s"}}},
   {"data":{"name":"b1o"},"transform":[{"window":[{"op":"row_number","as":"i"}]}],"mark":{"type":"line","interpolate":"cardinal","strokeWidth":2.5},"encoding":{"x":{"field":"x","type":"quantitative","axis":null},"y":{"field":"y","type":"quantitative","axis":null},"color":{"field":"c","type":"nominal","scale":{"domain":["b","g","r"],"range":["#0000ee","#1b8c1b","#ee1111"]},"legend":null},"detail":{"field":"g","type":"nominal"},"order":{"field":"i","type":"quantitative"}}},
   {"data":{"name":"lx_b1"},"mark":{"type":"text","dy":9,"baseline":"middle"},"encoding":{"x":{"field":"v","type":"quantitative","axis":null},"y":{"datum":0},"text":{"field":"s"}}},
   {"data":{"name":"ly_b1"},"mark":{"type":"text","fontSize":13,"color":"#333"},"encoding":{"x":{"field":"x","type":"quantitative","axis":null},"y":{"field":"y","type":"quantitative","axis":null},"text":{"field":"s"}}},
   {"data":{"name":"tb_b1"},"mark":{"type":"text","fontSize":15,"color":"#555"},"encoding":{"x":{"field":"x","type":"quantitative","axis":null},"y":{"field":"y","type":"quantitative","axis":null},"text":{"field":"s"}}},
   {"data":{"name":"la_b1"},"mark":{"type":"text","fontSize":25,"color":"#000"},"encoding":{"x":{"field":"x","type":"quantitative","axis":null},"y":{"field":"y","type":"quantitative","axis":null},"text":{"field":"s"}}}
  ]},
  {"width":316,"height":320,"title":"Shear modulus in (xz) plane","layer":[
   {"data":{"name":"hx_b2"},"mark":{"type":"line","color":"#7a7a7a","strokeWidth":1.5},"encoding":{"x":{"field":"x","type":"quantitative","scale":{"domain":[-21.3,21.5],"nice":false,"zero":false},"axis":{"values":[-20,-15,-10,-5,5,10,15,20],"title":null,"grid":true,"gridColor":"#dedede","labels":false,"ticks":false,"domain":false}},"y":{"field":"y","type":"quantitative","scale":{"domain":[-21.68,21.68],"nice":false,"zero":false},"axis":{"values":[-20,-15,-10,-5,5,10,15,20],"title":null,"grid":true,"gridColor":"#dedede","labels":false,"ticks":false,"domain":false}}}},
   {"data":{"name":"vy_b2"},"mark":{"type":"line","color":"#7a7a7a","strokeWidth":1.5},"encoding":{"x":{"field":"x","type":"quantitative","axis":null},"y":{"field":"y","type":"quantitative","axis":null}}},
   {"data":{"name":"mx_b2"},"mark":{"type":"tick","orient":"vertical","size":6,"thickness":1,"color":"#a0a0a0"},"encoding":{"x":{"field":"v","type":"quantitative","axis":null},"y":{"datum":0}}},
   {"data":{"name":"my_b2"},"mark":{"type":"text","fontSize":10,"color":"#a0a0a0"},"encoding":{"x":{"field":"x","type":"quantitative","axis":null},"y":{"field":"y","type":"quantitative","axis":null},"text":{"field":"s"}}},
   {"data":{"name":"ar_b2"},"mark":{"type":"text","fontSize":10,"color":"#6a6a6a"},"encoding":{"x":{"field":"x","type":"quantitative","axis":null},"y":{"field":"y","type":"quantitative","axis":null},"text":{"field":"s"}}},
   {"data":{"name":"b2o"},"transform":[{"window":[{"op":"row_number","as":"i"}]}],"mark":{"type":"line","interpolate":"cardinal","strokeWidth":2.5},"encoding":{"x":{"field":"x","type":"quantitative","axis":null},"y":{"field":"y","type":"quantitative","axis":null},"color":{"field":"c","type":"nominal","scale":{"domain":["b","g","r"],"range":["#0000ee","#1b8c1b","#ee1111"]},"legend":null},"detail":{"field":"g","type":"nominal"},"order":{"field":"i","type":"quantitative"}}},
   {"data":{"name":"b2c"},"transform":[{"window":[{"op":"row_number","as":"i"}]}],"mark":{"type":"line","interpolate":"cardinal-closed","strokeWidth":2.5},"encoding":{"x":{"field":"x","type":"quantitative","axis":null},"y":{"field":"y","type":"quantitative","axis":null},"color":{"field":"c","type":"nominal","scale":{"domain":["b","g","r"],"range":["#0000ee","#1b8c1b","#ee1111"]},"legend":null},"order":{"field":"i","type":"quantitative"}}},
   {"data":{"name":"lx_b2"},"mark":{"type":"text","dy":9,"baseline":"middle"},"encoding":{"x":{"field":"v","type":"quantitative","axis":null},"y":{"datum":0},"text":{"field":"s"}}},
   {"data":{"name":"ly_b2"},"mark":{"type":"text","fontSize":13,"color":"#333"},"encoding":{"x":{"field":"x","type":"quantitative","axis":null},"y":{"field":"y","type":"quantitative","axis":null},"text":{"field":"s"}}},
   {"data":{"name":"tb_b2"},"mark":{"type":"text","fontSize":15,"color":"#555"},"encoding":{"x":{"field":"x","type":"quantitative","axis":null},"y":{"field":"y","type":"quantitative","axis":null},"text":{"field":"s"}}}
  ]},
  {"width":316,"height":320,"title":"Shear modulus in (yz) plane","layer":[
   {"data":{"name":"hx_b3"},"mark":{"type":"line","color":"#7a7a7a","strokeWidth":1.5},"encoding":{"x":{"field":"x","type":"quantitative","scale":{"domain":[-21.3,21.5],"nice":false,"zero":false},"axis":{"values":[-20,-15,-10,-5,5,10,15,20],"title":null,"grid":true,"gridColor":"#dedede","labels":false,"ticks":false,"domain":false}},"y":{"field":"y","type":"quantitative","scale":{"domain":[-21.68,21.68],"nice":false,"zero":false},"axis":{"values":[-20,-15,-10,-5,5,10,15,20],"title":null,"grid":true,"gridColor":"#dedede","labels":false,"ticks":false,"domain":false}}}},
   {"data":{"name":"vy_b3"},"mark":{"type":"line","color":"#7a7a7a","strokeWidth":1.5},"encoding":{"x":{"field":"x","type":"quantitative","axis":null},"y":{"field":"y","type":"quantitative","axis":null}}},
   {"data":{"name":"mx_b3"},"mark":{"type":"tick","orient":"vertical","size":6,"thickness":1,"color":"#a0a0a0"},"encoding":{"x":{"field":"v","type":"quantitative","axis":null},"y":{"datum":0}}},
   {"data":{"name":"my_b3"},"mark":{"type":"text","fontSize":10,"color":"#a0a0a0"},"encoding":{"x":{"field":"x","type":"quantitative","axis":null},"y":{"field":"y","type":"quantitative","axis":null},"text":{"field":"s"}}},
   {"data":{"name":"ar_b3"},"mark":{"type":"text","fontSize":10,"color":"#6a6a6a"},"encoding":{"x":{"field":"x","type":"quantitative","axis":null},"y":{"field":"y","type":"quantitative","axis":null},"text":{"field":"s"}}},
   {"data":{"name":"b3o"},"transform":[{"window":[{"op":"row_number","as":"i"}]}],"mark":{"type":"line","interpolate":"cardinal","strokeWidth":2.5},"encoding":{"x":{"field":"x","type":"quantitative","axis":null},"y":{"field":"y","type":"quantitative","axis":null},"color":{"field":"c","type":"nominal","scale":{"domain":["b","g","r"],"range":["#0000ee","#1b8c1b","#ee1111"]},"legend":null},"detail":{"field":"g","type":"nominal"},"order":{"field":"i","type":"quantitative"}}},
   {"data":{"name":"lx_b3"},"mark":{"type":"text","dy":9,"baseline":"middle"},"encoding":{"x":{"field":"v","type":"quantitative","axis":null},"y":{"datum":0},"text":{"field":"s"}}},
   {"data":{"name":"ly_b3"},"mark":{"type":"text","fontSize":13,"color":"#333"},"encoding":{"x":{"field":"x","type":"quantitative","axis":null},"y":{"field":"y","type":"quantitative","axis":null},"text":{"field":"s"}}},
   {"data":{"name":"tb_b3"},"mark":{"type":"text","fontSize":15,"color":"#555"},"encoding":{"x":{"field":"x","type":"quantitative","axis":null},"y":{"field":"y","type":"quantitative","axis":null},"text":{"field":"s"}}}
  ]}
 ], "spacing": 28, "bounds": "flush"},
 {"hconcat": [
  {"width":316,"height":322,"title":"Poisson's ratio in (xy) plane","layer":[
   {"data":{"name":"hx_c1"},"mark":{"type":"line","color":"#7a7a7a","strokeWidth":1.5},"encoding":{"x":{"field":"x","type":"quantitative","scale":{"domain":[-1.01,1.01],"nice":false,"zero":false},"axis":{"values":[-1,-0.5,0.5,1],"title":null,"grid":true,"gridColor":"#dedede","labels":false,"ticks":false,"domain":false}},"y":{"field":"y","type":"quantitative","scale":{"domain":[-1.028,1.037],"nice":false,"zero":false},"axis":{"values":[-1,-0.5,0.5,1],"title":null,"grid":true,"gridColor":"#dedede","labels":false,"ticks":false,"domain":false}}}},
   {"data":{"name":"vy_c1"},"mark":{"type":"line","color":"#7a7a7a","strokeWidth":1.5},"encoding":{"x":{"field":"x","type":"quantitative","axis":null},"y":{"field":"y","type":"quantitative","axis":null}}},
   {"data":{"name":"wb_c1"},"mark":{"type":"line","color":"white","strokeWidth":56},"encoding":{"x":{"field":"x","type":"quantitative","axis":null},"y":{"field":"y","type":"quantitative","axis":null}}},
   {"data":{"name":"mx_c1"},"mark":{"type":"tick","orient":"vertical","size":6,"thickness":1,"color":"#a0a0a0"},"encoding":{"x":{"field":"v","type":"quantitative","axis":null},"y":{"datum":0}}},
   {"data":{"name":"my_c1"},"mark":{"type":"text","fontSize":10,"color":"#a0a0a0"},"encoding":{"x":{"field":"x","type":"quantitative","axis":null},"y":{"field":"y","type":"quantitative","axis":null},"text":{"field":"s"}}},
   {"data":{"name":"ar_c1"},"mark":{"type":"text","fontSize":10,"color":"#6a6a6a"},"encoding":{"x":{"field":"x","type":"quantitative","axis":null},"y":{"field":"y","type":"quantitative","axis":null},"text":{"field":"s"}}},
   {"data":{"name":"c1o"},"transform":[{"window":[{"op":"row_number","as":"i"}]}],"mark":{"type":"line","interpolate":"cardinal","strokeWidth":2.5},"encoding":{"x":{"field":"x","type":"quantitative","axis":null},"y":{"field":"y","type":"quantitative","axis":null},"color":{"field":"c","type":"nominal","scale":{"domain":["b","g","r"],"range":["#0000ee","#1b8c1b","#ee1111"]},"legend":null},"detail":{"field":"g","type":"nominal"},"order":{"field":"i","type":"quantitative"}}},
   {"data":{"name":"c1c"},"transform":[{"window":[{"op":"row_number","as":"i"}]}],"mark":{"type":"line","interpolate":"cardinal-closed","strokeWidth":2.2},"encoding":{"x":{"field":"x","type":"quantitative","axis":null},"y":{"field":"y","type":"quantitative","axis":null},"color":{"field":"c","type":"nominal","scale":{"domain":["b","g","r"],"range":["#0000ee","#1b8c1b","#ee1111"]},"legend":null},"detail":{"field":"g","type":"nominal"},"order":{"field":"i","type":"quantitative"}}},
   {"data":{"name":"lx_c1"},"mark":{"type":"text","dy":9,"baseline":"middle"},"encoding":{"x":{"field":"v","type":"quantitative","axis":null},"y":{"datum":0},"text":{"field":"s"}}},
   {"data":{"name":"ly_c1"},"mark":{"type":"text","fontSize":13,"color":"#333"},"encoding":{"x":{"field":"x","type":"quantitative","axis":null},"y":{"field":"y","type":"quantitative","axis":null},"text":{"field":"s"}}},
   {"data":{"name":"tb_c1"},"mark":{"type":"text","fontSize":15,"color":"#555"},"encoding":{"x":{"field":"x","type":"quantitative","axis":null},"y":{"field":"y","type":"quantitative","axis":null},"text":{"field":"s"}}},
   {"data":{"name":"la_c1"},"mark":{"type":"text","fontSize":25,"color":"#000"},"encoding":{"x":{"field":"x","type":"quantitative","axis":null},"y":{"field":"y","type":"quantitative","axis":null},"text":{"field":"s"}}}
  ]},
  {"width":316,"height":322,"title":"Poisson's ratio in (xz) plane","layer":[
   {"data":{"name":"hx_c2"},"mark":{"type":"line","color":"#7a7a7a","strokeWidth":1.5},"encoding":{"x":{"field":"x","type":"quantitative","scale":{"domain":[-1.033,0.987],"nice":false,"zero":false},"axis":{"values":[-1,-0.5,0.5],"title":null,"grid":true,"gridColor":"#dedede","labels":false,"ticks":false,"domain":false}},"y":{"field":"y","type":"quantitative","scale":{"domain":[-1.028,1.037],"nice":false,"zero":false},"axis":{"values":[-1,-0.5,0.5,1],"title":null,"grid":true,"gridColor":"#dedede","labels":false,"ticks":false,"domain":false}}}},
   {"data":{"name":"vy_c2"},"mark":{"type":"line","color":"#7a7a7a","strokeWidth":1.5},"encoding":{"x":{"field":"x","type":"quantitative","axis":null},"y":{"field":"y","type":"quantitative","axis":null}}},
   {"data":{"name":"mx_c2"},"mark":{"type":"tick","orient":"vertical","size":6,"thickness":1,"color":"#a0a0a0"},"encoding":{"x":{"field":"v","type":"quantitative","axis":null},"y":{"datum":0}}},
   {"data":{"name":"my_c2"},"mark":{"type":"text","fontSize":10,"color":"#a0a0a0"},"encoding":{"x":{"field":"x","type":"quantitative","axis":null},"y":{"field":"y","type":"quantitative","axis":null},"text":{"field":"s"}}},
   {"data":{"name":"ar_c2"},"mark":{"type":"text","fontSize":10,"color":"#6a6a6a"},"encoding":{"x":{"field":"x","type":"quantitative","axis":null},"y":{"field":"y","type":"quantitative","axis":null},"text":{"field":"s"}}},
   {"data":{"name":"c2o"},"transform":[{"window":[{"op":"row_number","as":"i"}]}],"mark":{"type":"line","interpolate":"cardinal","strokeWidth":2.5},"encoding":{"x":{"field":"x","type":"quantitative","axis":null},"y":{"field":"y","type":"quantitative","axis":null},"color":{"field":"c","type":"nominal","scale":{"domain":["b","g","r"],"range":["#0000ee","#1b8c1b","#ee1111"]},"legend":null},"detail":{"field":"g","type":"nominal"},"order":{"field":"i","type":"quantitative"}}},
   {"data":{"name":"c2c"},"transform":[{"window":[{"op":"row_number","as":"i"}]}],"mark":{"type":"line","interpolate":"cardinal-closed","strokeWidth":2.2},"encoding":{"x":{"field":"x","type":"quantitative","axis":null},"y":{"field":"y","type":"quantitative","axis":null},"color":{"field":"c","type":"nominal","scale":{"domain":["b","g","r"],"range":["#0000ee","#1b8c1b","#ee1111"]},"legend":null},"detail":{"field":"g","type":"nominal"},"order":{"field":"i","type":"quantitative"}}},
   {"data":{"name":"lx_c2"},"mark":{"type":"text","dy":9,"baseline":"middle"},"encoding":{"x":{"field":"v","type":"quantitative","axis":null},"y":{"datum":0},"text":{"field":"s"}}},
   {"data":{"name":"ly_c2"},"mark":{"type":"text","fontSize":13,"color":"#333"},"encoding":{"x":{"field":"x","type":"quantitative","axis":null},"y":{"field":"y","type":"quantitative","axis":null},"text":{"field":"s"}}},
   {"data":{"name":"tb_c2"},"mark":{"type":"text","fontSize":15,"color":"#555"},"encoding":{"x":{"field":"x","type":"quantitative","axis":null},"y":{"field":"y","type":"quantitative","axis":null},"text":{"field":"s"}}}
  ]},
  {"width":310,"height":322,"title":"Poisson's ratio in (yz) plane","layer":[
   {"data":{"name":"hx_c3"},"mark":{"type":"line","color":"#7a7a7a","strokeWidth":1.5},"encoding":{"x":{"field":"x","type":"quantitative","scale":{"domain":[-1.033,0.948],"nice":false,"zero":false},"axis":{"values":[-1,-0.5,0.5],"title":null,"grid":true,"gridColor":"#dedede","labels":false,"ticks":false,"domain":false}},"y":{"field":"y","type":"quantitative","scale":{"domain":[-1.028,1.037],"nice":false,"zero":false},"axis":{"values":[-1,-0.5,0.5,1],"title":null,"grid":true,"gridColor":"#dedede","labels":false,"ticks":false,"domain":false}}}},
   {"data":{"name":"vy_c3"},"mark":{"type":"line","color":"#7a7a7a","strokeWidth":1.5},"encoding":{"x":{"field":"x","type":"quantitative","axis":null},"y":{"field":"y","type":"quantitative","axis":null}}},
   {"data":{"name":"mx_c3"},"mark":{"type":"tick","orient":"vertical","size":6,"thickness":1,"color":"#a0a0a0"},"encoding":{"x":{"field":"v","type":"quantitative","axis":null},"y":{"datum":0}}},
   {"data":{"name":"my_c3"},"mark":{"type":"text","fontSize":10,"color":"#a0a0a0"},"encoding":{"x":{"field":"x","type":"quantitative","axis":null},"y":{"field":"y","type":"quantitative","axis":null},"text":{"field":"s"}}},
   {"data":{"name":"ar_c3"},"mark":{"type":"text","fontSize":10,"color":"#6a6a6a"},"encoding":{"x":{"field":"x","type":"quantitative","axis":null},"y":{"field":"y","type":"quantitative","axis":null},"text":{"field":"s"}}},
   {"data":{"name":"c3o"},"transform":[{"window":[{"op":"row_number","as":"i"}]}],"mark":{"type":"line","interpolate":"cardinal","strokeWidth":2.5},"encoding":{"x":{"field":"x","type":"quantitative","axis":null},"y":{"field":"y","type":"quantitative","axis":null},"color":{"field":"c","type":"nominal","scale":{"domain":["b","g","r"],"range":["#0000ee","#1b8c1b","#ee1111"]},"legend":null},"detail":{"field":"g","type":"nominal"},"order":{"field":"i","type":"quantitative"}}},
   {"data":{"name":"c3c"},"transform":[{"window":[{"op":"row_number","as":"i"}]}],"mark":{"type":"line","interpolate":"cardinal-closed","strokeWidth":2.2},"encoding":{"x":{"field":"x","type":"quantitative","axis":null},"y":{"field":"y","type":"quantitative","axis":null},"color":{"field":"c","type":"nominal","scale":{"domain":["b","g","r"],"range":["#0000ee","#1b8c1b","#ee1111"]},"legend":null},"detail":{"field":"g","type":"nominal"},"order":{"field":"i","type":"quantitative"}}},
   {"data":{"name":"lx_c3"},"mark":{"type":"text","dy":9,"baseline":"middle"},"encoding":{"x":{"field":"v","type":"quantitative","axis":null},"y":{"datum":0},"text":{"field":"s"}}},
   {"data":{"name":"ly_c3"},"mark":{"type":"text","fontSize":13,"color":"#333"},"encoding":{"x":{"field":"x","type":"quantitative","axis":null},"y":{"field":"y","type":"quantitative","axis":null},"text":{"field":"s"}}},
   {"data":{"name":"tb_c3"},"mark":{"type":"text","fontSize":15,"color":"#555"},"encoding":{"x":{"field":"x","type":"quantitative","axis":null},"y":{"field":"y","type":"quantitative","axis":null},"text":{"field":"s"}}}
  ]}
 ], "spacing": 32, "bounds": "flush"}
]
}
